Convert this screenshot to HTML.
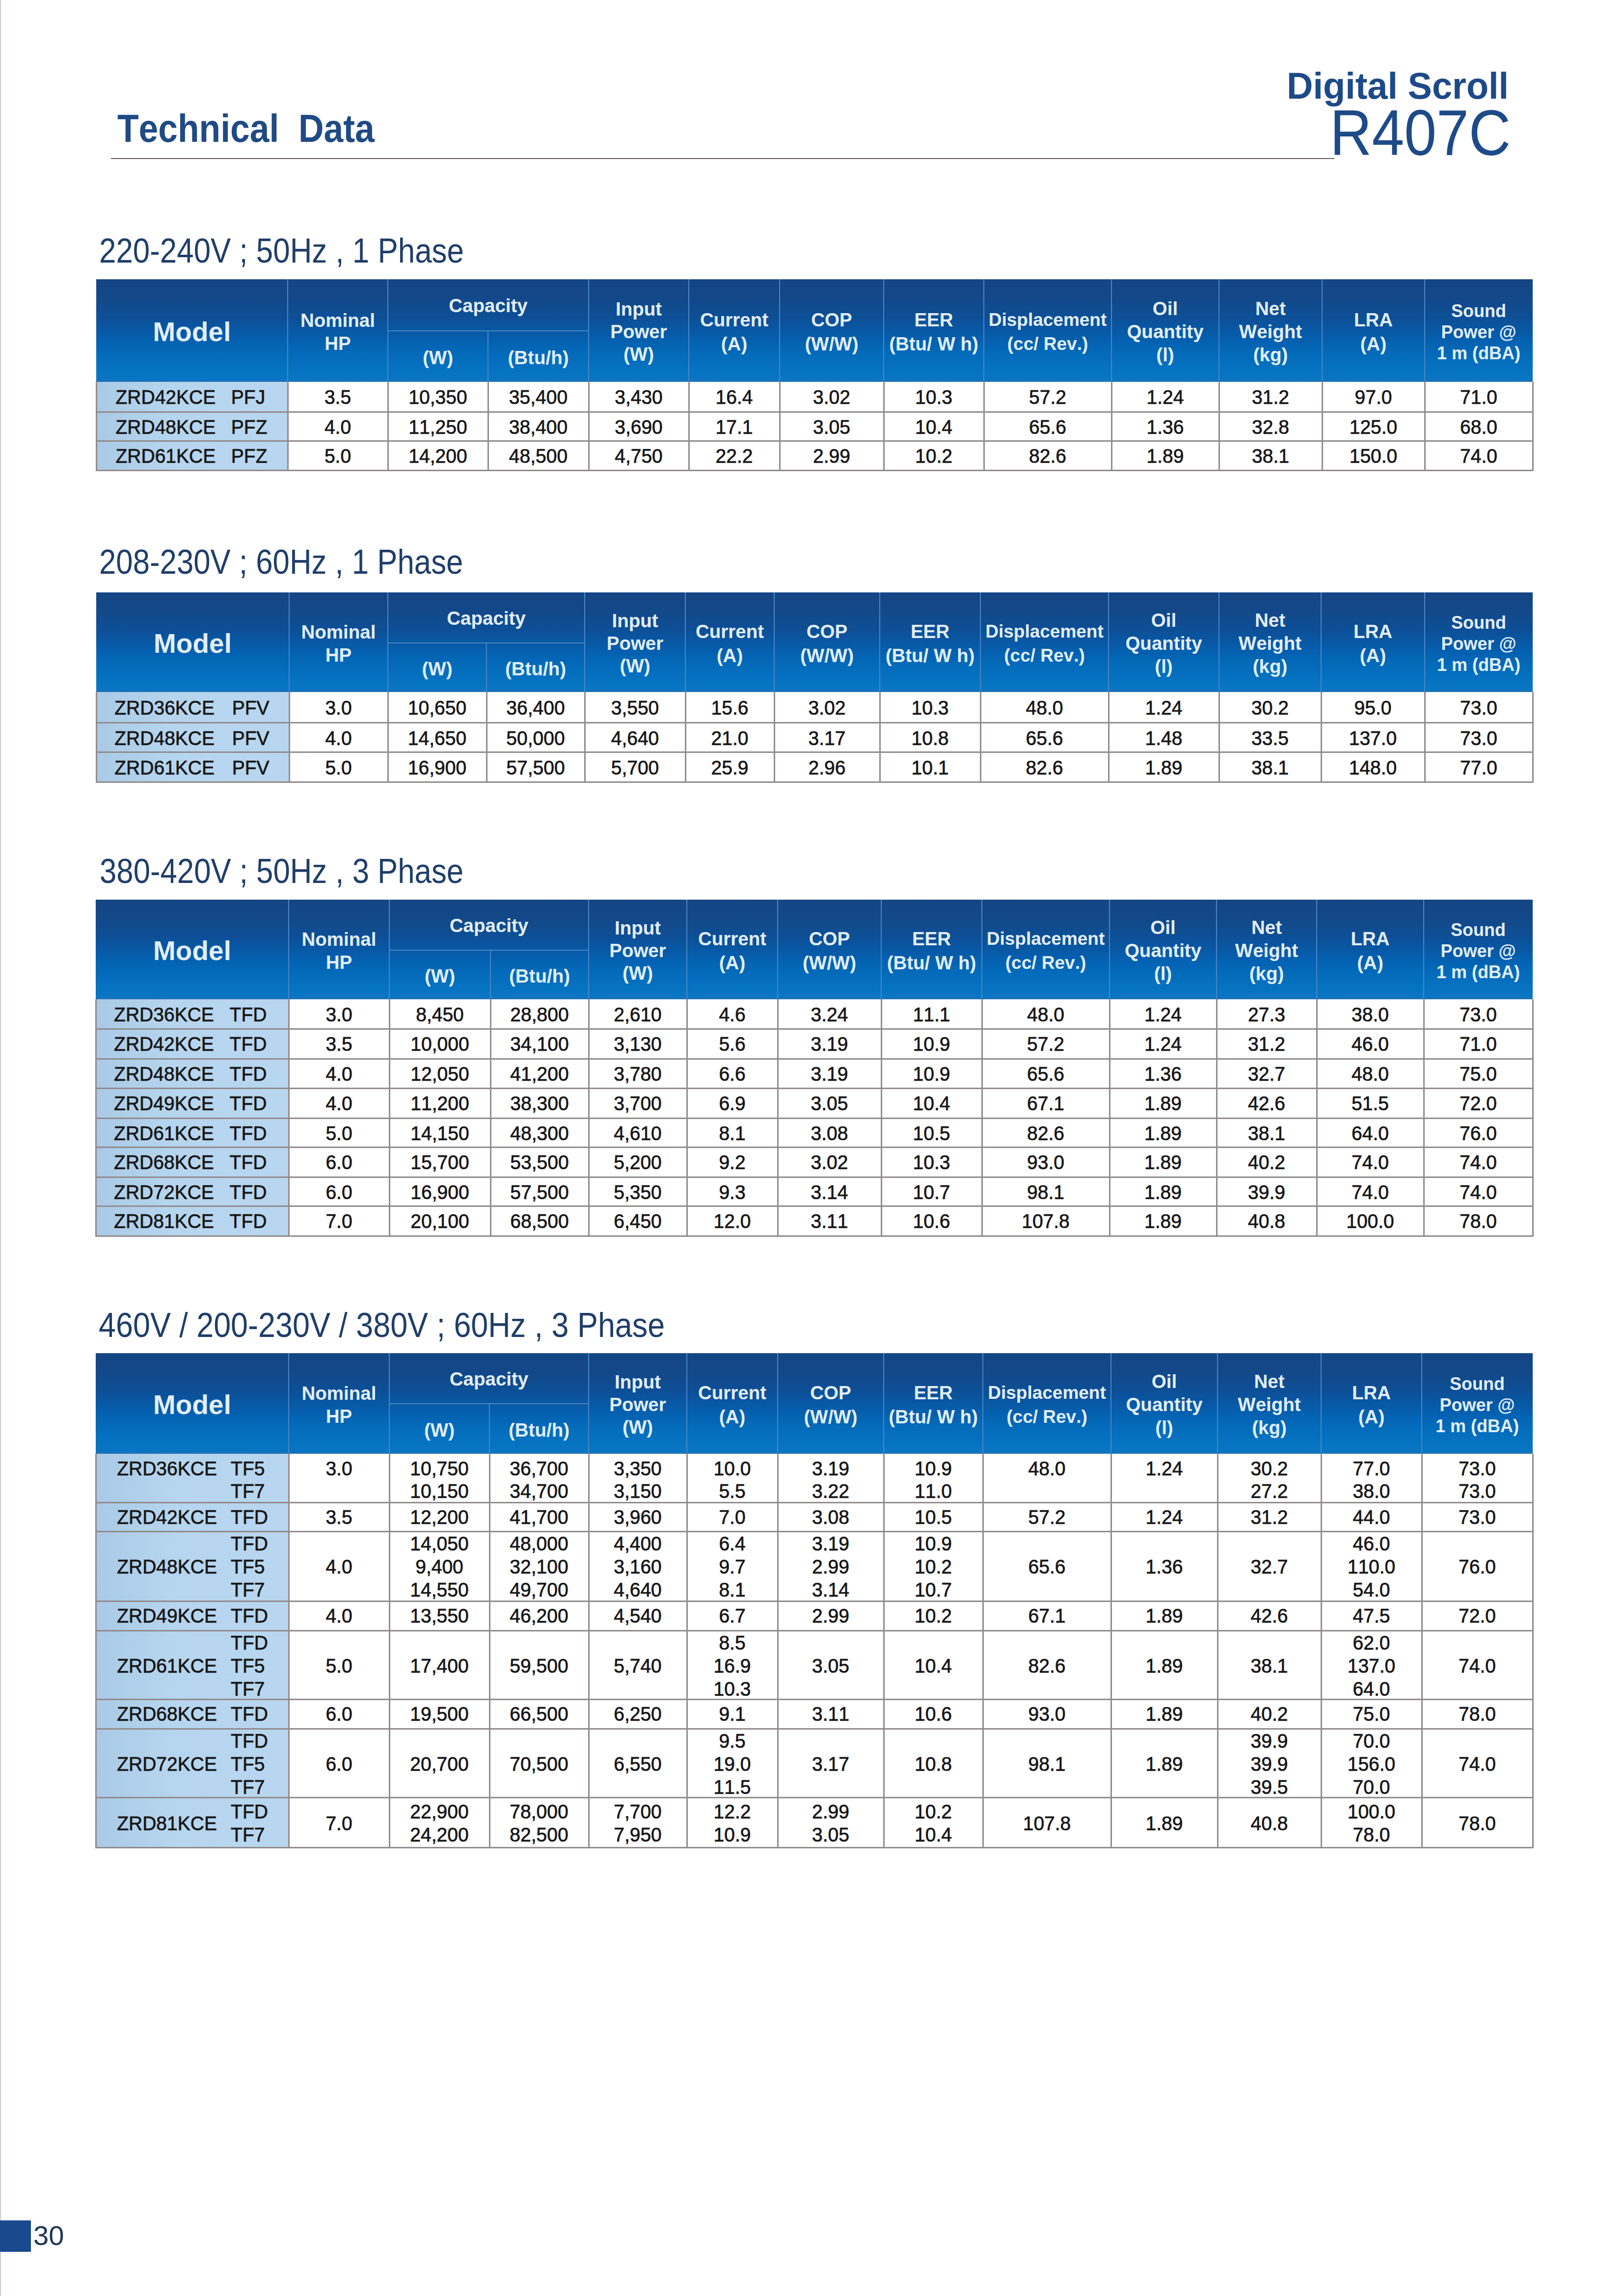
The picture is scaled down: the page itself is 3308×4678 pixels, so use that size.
<!DOCTYPE html>
<html><head><meta charset="utf-8"><style>
html,body{margin:0;padding:0;background:#fff;}
body{width:3308px;height:4678px;position:relative;overflow:hidden;font-family:"Liberation Sans",sans-serif;}
.t{position:absolute;white-space:pre;font-kerning:none;}
.hdr{position:absolute;background:linear-gradient(to bottom,#154583 0%,#12498a 22%,#0d4f96 37%,#0858a5 50%,#0462b2 62%,#036cbb 75%,#0673c1 90%,#0a76c3 98%,#2a6eb0 100%);}
.mcol{position:absolute;background:linear-gradient(to right,#a9cae6,#b6d5ee 40%,#b8d6ef);}
.hl{position:absolute;background:#4a86c6;}
.gl{position:absolute;background:#928b8b;}
</style></head><body>
<div style="position:absolute;left:0;top:0;width:2px;height:4678px;background:#d2c6ca"></div>
<div style="position:absolute;left:226px;top:322px;width:2492px;height:2px;background:#6b5a60"></div>
<div class="t" style="left:201.9px;top:469.2px;height:84px;line-height:84px;font-size:70px;color:#1f3e6a;font-weight:normal;transform:scaleX(0.8838);transform-origin:0 50%;">220-240V ; 50Hz , 1 Phase</div>
<div class="t" style="left:202.4px;top:1102.7px;height:84px;line-height:84px;font-size:70px;color:#1f3e6a;font-weight:normal;transform:scaleX(0.8820);transform-origin:0 50%;">208-230V ; 60Hz , 1 Phase</div>
<div class="t" style="left:202.6px;top:1733.2px;height:84px;line-height:84px;font-size:70px;color:#1f3e6a;font-weight:normal;transform:scaleX(0.8817);transform-origin:0 50%;">380-420V ; 50Hz , 3 Phase</div>
<div class="t" style="left:200.6px;top:2657.7px;height:84px;line-height:84px;font-size:70px;color:#1f3e6a;font-weight:normal;transform:scaleX(0.8980);transform-origin:0 50%;">460V / 200-230V / 380V ; 60Hz , 3 Phase</div>
<div class="t" style="left:238.8px;top:213.7px;height:95px;line-height:95px;font-size:79px;color:#1f4a85;font-weight:bold;transform:scaleX(0.9036);transform-origin:0 50%;">Technical  Data</div>
<div class="t" style="left:2621.1px;top:128.9px;height:91px;line-height:91px;font-size:76px;color:#1d4a88;font-weight:bold;transform:scaleX(0.9734);transform-origin:0 50%;">Digital Scroll</div>
<div class="t" style="left:2708.8px;top:192.2px;height:158px;line-height:158px;font-size:132px;color:#1d4a88;font-weight:normal;transform:scaleX(0.8964);transform-origin:0 50%;">R407C</div>
<div class="hdr" style="left:196px;top:569px;width:2926px;height:209px"></div>
<div class="mcol" style="left:196px;top:778px;width:390px;height:180px"></div>
<div class="hl" style="left:585px;top:569px;width:2px;height:209px"></div>
<div class="hl" style="left:789px;top:569px;width:2px;height:209px"></div>
<div class="hl" style="left:993px;top:674px;width:2px;height:104px"></div>
<div class="hl" style="left:1198px;top:569px;width:2px;height:209px"></div>
<div class="hl" style="left:1402px;top:569px;width:2px;height:209px"></div>
<div class="hl" style="left:1587px;top:569px;width:2px;height:209px"></div>
<div class="hl" style="left:1799px;top:569px;width:2px;height:209px"></div>
<div class="hl" style="left:2003px;top:569px;width:2px;height:209px"></div>
<div class="hl" style="left:2263px;top:569px;width:2px;height:209px"></div>
<div class="hl" style="left:2482px;top:569px;width:2px;height:209px"></div>
<div class="hl" style="left:2692px;top:569px;width:2px;height:209px"></div>
<div class="hl" style="left:2901px;top:569px;width:2px;height:209px"></div>
<div class="hl" style="left:790px;top:673px;width:409px;height:2px"></div>
<div class="gl" style="left:195px;top:778px;width:3px;height:181px"></div>
<div class="gl" style="left:585px;top:778px;width:3px;height:181px"></div>
<div class="gl" style="left:789px;top:778px;width:3px;height:181px"></div>
<div class="gl" style="left:993px;top:778px;width:3px;height:181px"></div>
<div class="gl" style="left:1198px;top:778px;width:3px;height:181px"></div>
<div class="gl" style="left:1402px;top:778px;width:3px;height:181px"></div>
<div class="gl" style="left:1587px;top:778px;width:3px;height:181px"></div>
<div class="gl" style="left:1799px;top:778px;width:3px;height:181px"></div>
<div class="gl" style="left:2003px;top:778px;width:3px;height:181px"></div>
<div class="gl" style="left:2263px;top:778px;width:3px;height:181px"></div>
<div class="gl" style="left:2482px;top:778px;width:3px;height:181px"></div>
<div class="gl" style="left:2692px;top:778px;width:3px;height:181px"></div>
<div class="gl" style="left:2901px;top:778px;width:3px;height:181px"></div>
<div class="gl" style="left:3121px;top:778px;width:3px;height:181px"></div>
<div class="gl" style="left:195px;top:838px;width:2928px;height:3px"></div>
<div class="gl" style="left:195px;top:897px;width:2928px;height:3px"></div>
<div class="gl" style="left:195px;top:957px;width:2928px;height:3px"></div>
<div class="t" style="left:191.0px;top:643.4px;width:400px;height:66px;line-height:66px;font-size:55px;color:#e2eef9;font-weight:bold;text-align:center;">Model</div>
<div class="t" style="left:488.0px;top:629.9px;width:400px;height:46px;line-height:46px;font-size:38.5px;color:#e2eef9;font-weight:bold;text-align:center;">Nominal</div>
<div class="t" style="left:488.0px;top:676.9px;width:400px;height:46px;line-height:46px;font-size:38.5px;color:#e2eef9;font-weight:bold;text-align:center;">HP</div>
<div class="t" style="left:794.5px;top:600.4px;width:400px;height:46px;line-height:46px;font-size:38.5px;color:#e2eef9;font-weight:bold;text-align:center;">Capacity</div>
<div class="t" style="left:692.0px;top:705.9px;width:400px;height:46px;line-height:46px;font-size:38.5px;color:#e2eef9;font-weight:bold;text-align:center;">(W)</div>
<div class="t" style="left:896.5px;top:705.9px;width:400px;height:46px;line-height:46px;font-size:38.5px;color:#e2eef9;font-weight:bold;text-align:center;">(Btu/h)</div>
<div class="t" style="left:1101.0px;top:607.4px;width:400px;height:46px;line-height:46px;font-size:38.5px;color:#e2eef9;font-weight:bold;text-align:center;">Input</div>
<div class="t" style="left:1101.0px;top:653.4px;width:400px;height:46px;line-height:46px;font-size:38.5px;color:#e2eef9;font-weight:bold;text-align:center;">Power</div>
<div class="t" style="left:1101.0px;top:699.4px;width:400px;height:46px;line-height:46px;font-size:38.5px;color:#e2eef9;font-weight:bold;text-align:center;">(W)</div>
<div class="t" style="left:1295.5px;top:628.9px;width:400px;height:46px;line-height:46px;font-size:38.5px;color:#e2eef9;font-weight:bold;text-align:center;">Current</div>
<div class="t" style="left:1295.5px;top:677.9px;width:400px;height:46px;line-height:46px;font-size:38.5px;color:#e2eef9;font-weight:bold;text-align:center;">(A)</div>
<div class="t" style="left:1494.0px;top:628.9px;width:400px;height:46px;line-height:46px;font-size:38.5px;color:#e2eef9;font-weight:bold;text-align:center;">COP</div>
<div class="t" style="left:1494.0px;top:677.9px;width:400px;height:46px;line-height:46px;font-size:38.5px;color:#e2eef9;font-weight:bold;text-align:center;">(W/W)</div>
<div class="t" style="left:1702.0px;top:628.9px;width:400px;height:46px;line-height:46px;font-size:38.5px;color:#e2eef9;font-weight:bold;text-align:center;">EER</div>
<div class="t" style="left:1702.0px;top:677.9px;width:400px;height:46px;line-height:46px;font-size:38.5px;color:#e2eef9;font-weight:bold;text-align:center;">(Btu/ W h)</div>
<div class="t" style="left:1934.0px;top:629.9px;width:400px;height:44px;line-height:44px;font-size:37px;color:#e2eef9;font-weight:bold;text-align:center;">Displacement</div>
<div class="t" style="left:1934.0px;top:678.9px;width:400px;height:44px;line-height:44px;font-size:37px;color:#e2eef9;font-weight:bold;text-align:center;">(cc/ Rev.)</div>
<div class="t" style="left:2173.5px;top:606.4px;width:400px;height:46px;line-height:46px;font-size:38.5px;color:#e2eef9;font-weight:bold;text-align:center;">Oil</div>
<div class="t" style="left:2173.5px;top:653.4px;width:400px;height:46px;line-height:46px;font-size:38.5px;color:#e2eef9;font-weight:bold;text-align:center;">Quantity</div>
<div class="t" style="left:2173.5px;top:700.4px;width:400px;height:46px;line-height:46px;font-size:38.5px;color:#e2eef9;font-weight:bold;text-align:center;">(l)</div>
<div class="t" style="left:2388.0px;top:606.4px;width:400px;height:46px;line-height:46px;font-size:38.5px;color:#e2eef9;font-weight:bold;text-align:center;">Net</div>
<div class="t" style="left:2388.0px;top:653.4px;width:400px;height:46px;line-height:46px;font-size:38.5px;color:#e2eef9;font-weight:bold;text-align:center;">Weight</div>
<div class="t" style="left:2388.0px;top:700.4px;width:400px;height:46px;line-height:46px;font-size:38.5px;color:#e2eef9;font-weight:bold;text-align:center;">(kg)</div>
<div class="t" style="left:2597.5px;top:628.9px;width:400px;height:46px;line-height:46px;font-size:38.5px;color:#e2eef9;font-weight:bold;text-align:center;">LRA</div>
<div class="t" style="left:2597.5px;top:677.9px;width:400px;height:46px;line-height:46px;font-size:38.5px;color:#e2eef9;font-weight:bold;text-align:center;">(A)</div>
<div class="t" style="left:2812.0px;top:611.7px;width:400px;height:43px;line-height:43px;font-size:36px;color:#e2eef9;font-weight:bold;text-align:center;">Sound</div>
<div class="t" style="left:2812.0px;top:654.9px;width:400px;height:43px;line-height:43px;font-size:36px;color:#e2eef9;font-weight:bold;text-align:center;">Power @</div>
<div class="t" style="left:2812.0px;top:698.1px;width:400px;height:43px;line-height:43px;font-size:36px;color:#e2eef9;font-weight:bold;text-align:center;">1 m (dBA)</div>
<div class="t" style="left:235.5px;top:786.0px;height:47px;line-height:47px;font-size:39px;color:#161616;font-weight:normal;transform:scaleY(1.03);-webkit-text-stroke:0.7px #161616;">ZRD42KCE</div>
<div class="t" style="left:470.8px;top:786.0px;height:47px;line-height:47px;font-size:39px;color:#161616;font-weight:normal;transform:scaleY(1.03);-webkit-text-stroke:0.7px #161616;">PFJ</div>
<div class="t" style="left:488.0px;top:786.0px;width:400px;height:47px;line-height:47px;font-size:39px;color:#161616;font-weight:normal;text-align:center;transform:scaleY(1.03);-webkit-text-stroke:0.7px #161616;">3.5</div>
<div class="t" style="left:692.0px;top:786.0px;width:400px;height:47px;line-height:47px;font-size:39px;color:#161616;font-weight:normal;text-align:center;transform:scaleY(1.03);-webkit-text-stroke:0.7px #161616;">10,350</div>
<div class="t" style="left:896.5px;top:786.0px;width:400px;height:47px;line-height:47px;font-size:39px;color:#161616;font-weight:normal;text-align:center;transform:scaleY(1.03);-webkit-text-stroke:0.7px #161616;">35,400</div>
<div class="t" style="left:1101.0px;top:786.0px;width:400px;height:47px;line-height:47px;font-size:39px;color:#161616;font-weight:normal;text-align:center;transform:scaleY(1.03);-webkit-text-stroke:0.7px #161616;">3,430</div>
<div class="t" style="left:1295.5px;top:786.0px;width:400px;height:47px;line-height:47px;font-size:39px;color:#161616;font-weight:normal;text-align:center;transform:scaleY(1.03);-webkit-text-stroke:0.7px #161616;">16.4</div>
<div class="t" style="left:1494.0px;top:786.0px;width:400px;height:47px;line-height:47px;font-size:39px;color:#161616;font-weight:normal;text-align:center;transform:scaleY(1.03);-webkit-text-stroke:0.7px #161616;">3.02</div>
<div class="t" style="left:1702.0px;top:786.0px;width:400px;height:47px;line-height:47px;font-size:39px;color:#161616;font-weight:normal;text-align:center;transform:scaleY(1.03);-webkit-text-stroke:0.7px #161616;">10.3</div>
<div class="t" style="left:1934.0px;top:786.0px;width:400px;height:47px;line-height:47px;font-size:39px;color:#161616;font-weight:normal;text-align:center;transform:scaleY(1.03);-webkit-text-stroke:0.7px #161616;">57.2</div>
<div class="t" style="left:2173.5px;top:786.0px;width:400px;height:47px;line-height:47px;font-size:39px;color:#161616;font-weight:normal;text-align:center;transform:scaleY(1.03);-webkit-text-stroke:0.7px #161616;">1.24</div>
<div class="t" style="left:2388.0px;top:786.0px;width:400px;height:47px;line-height:47px;font-size:39px;color:#161616;font-weight:normal;text-align:center;transform:scaleY(1.03);-webkit-text-stroke:0.7px #161616;">31.2</div>
<div class="t" style="left:2597.5px;top:786.0px;width:400px;height:47px;line-height:47px;font-size:39px;color:#161616;font-weight:normal;text-align:center;transform:scaleY(1.03);-webkit-text-stroke:0.7px #161616;">97.0</div>
<div class="t" style="left:2812.0px;top:786.0px;width:400px;height:47px;line-height:47px;font-size:39px;color:#161616;font-weight:normal;text-align:center;transform:scaleY(1.03);-webkit-text-stroke:0.7px #161616;">71.0</div>
<div class="t" style="left:235.5px;top:847.0px;height:47px;line-height:47px;font-size:39px;color:#161616;font-weight:normal;transform:scaleY(1.03);-webkit-text-stroke:0.7px #161616;">ZRD48KCE</div>
<div class="t" style="left:470.8px;top:847.0px;height:47px;line-height:47px;font-size:39px;color:#161616;font-weight:normal;transform:scaleY(1.03);-webkit-text-stroke:0.7px #161616;">PFZ</div>
<div class="t" style="left:488.0px;top:847.0px;width:400px;height:47px;line-height:47px;font-size:39px;color:#161616;font-weight:normal;text-align:center;transform:scaleY(1.03);-webkit-text-stroke:0.7px #161616;">4.0</div>
<div class="t" style="left:692.0px;top:847.0px;width:400px;height:47px;line-height:47px;font-size:39px;color:#161616;font-weight:normal;text-align:center;transform:scaleY(1.03);-webkit-text-stroke:0.7px #161616;">11,250</div>
<div class="t" style="left:896.5px;top:847.0px;width:400px;height:47px;line-height:47px;font-size:39px;color:#161616;font-weight:normal;text-align:center;transform:scaleY(1.03);-webkit-text-stroke:0.7px #161616;">38,400</div>
<div class="t" style="left:1101.0px;top:847.0px;width:400px;height:47px;line-height:47px;font-size:39px;color:#161616;font-weight:normal;text-align:center;transform:scaleY(1.03);-webkit-text-stroke:0.7px #161616;">3,690</div>
<div class="t" style="left:1295.5px;top:847.0px;width:400px;height:47px;line-height:47px;font-size:39px;color:#161616;font-weight:normal;text-align:center;transform:scaleY(1.03);-webkit-text-stroke:0.7px #161616;">17.1</div>
<div class="t" style="left:1494.0px;top:847.0px;width:400px;height:47px;line-height:47px;font-size:39px;color:#161616;font-weight:normal;text-align:center;transform:scaleY(1.03);-webkit-text-stroke:0.7px #161616;">3.05</div>
<div class="t" style="left:1702.0px;top:847.0px;width:400px;height:47px;line-height:47px;font-size:39px;color:#161616;font-weight:normal;text-align:center;transform:scaleY(1.03);-webkit-text-stroke:0.7px #161616;">10.4</div>
<div class="t" style="left:1934.0px;top:847.0px;width:400px;height:47px;line-height:47px;font-size:39px;color:#161616;font-weight:normal;text-align:center;transform:scaleY(1.03);-webkit-text-stroke:0.7px #161616;">65.6</div>
<div class="t" style="left:2173.5px;top:847.0px;width:400px;height:47px;line-height:47px;font-size:39px;color:#161616;font-weight:normal;text-align:center;transform:scaleY(1.03);-webkit-text-stroke:0.7px #161616;">1.36</div>
<div class="t" style="left:2388.0px;top:847.0px;width:400px;height:47px;line-height:47px;font-size:39px;color:#161616;font-weight:normal;text-align:center;transform:scaleY(1.03);-webkit-text-stroke:0.7px #161616;">32.8</div>
<div class="t" style="left:2597.5px;top:847.0px;width:400px;height:47px;line-height:47px;font-size:39px;color:#161616;font-weight:normal;text-align:center;transform:scaleY(1.03);-webkit-text-stroke:0.7px #161616;">125.0</div>
<div class="t" style="left:2812.0px;top:847.0px;width:400px;height:47px;line-height:47px;font-size:39px;color:#161616;font-weight:normal;text-align:center;transform:scaleY(1.03);-webkit-text-stroke:0.7px #161616;">68.0</div>
<div class="t" style="left:235.5px;top:906.0px;height:47px;line-height:47px;font-size:39px;color:#161616;font-weight:normal;transform:scaleY(1.03);-webkit-text-stroke:0.7px #161616;">ZRD61KCE</div>
<div class="t" style="left:470.8px;top:906.0px;height:47px;line-height:47px;font-size:39px;color:#161616;font-weight:normal;transform:scaleY(1.03);-webkit-text-stroke:0.7px #161616;">PFZ</div>
<div class="t" style="left:488.0px;top:906.0px;width:400px;height:47px;line-height:47px;font-size:39px;color:#161616;font-weight:normal;text-align:center;transform:scaleY(1.03);-webkit-text-stroke:0.7px #161616;">5.0</div>
<div class="t" style="left:692.0px;top:906.0px;width:400px;height:47px;line-height:47px;font-size:39px;color:#161616;font-weight:normal;text-align:center;transform:scaleY(1.03);-webkit-text-stroke:0.7px #161616;">14,200</div>
<div class="t" style="left:896.5px;top:906.0px;width:400px;height:47px;line-height:47px;font-size:39px;color:#161616;font-weight:normal;text-align:center;transform:scaleY(1.03);-webkit-text-stroke:0.7px #161616;">48,500</div>
<div class="t" style="left:1101.0px;top:906.0px;width:400px;height:47px;line-height:47px;font-size:39px;color:#161616;font-weight:normal;text-align:center;transform:scaleY(1.03);-webkit-text-stroke:0.7px #161616;">4,750</div>
<div class="t" style="left:1295.5px;top:906.0px;width:400px;height:47px;line-height:47px;font-size:39px;color:#161616;font-weight:normal;text-align:center;transform:scaleY(1.03);-webkit-text-stroke:0.7px #161616;">22.2</div>
<div class="t" style="left:1494.0px;top:906.0px;width:400px;height:47px;line-height:47px;font-size:39px;color:#161616;font-weight:normal;text-align:center;transform:scaleY(1.03);-webkit-text-stroke:0.7px #161616;">2.99</div>
<div class="t" style="left:1702.0px;top:906.0px;width:400px;height:47px;line-height:47px;font-size:39px;color:#161616;font-weight:normal;text-align:center;transform:scaleY(1.03);-webkit-text-stroke:0.7px #161616;">10.2</div>
<div class="t" style="left:1934.0px;top:906.0px;width:400px;height:47px;line-height:47px;font-size:39px;color:#161616;font-weight:normal;text-align:center;transform:scaleY(1.03);-webkit-text-stroke:0.7px #161616;">82.6</div>
<div class="t" style="left:2173.5px;top:906.0px;width:400px;height:47px;line-height:47px;font-size:39px;color:#161616;font-weight:normal;text-align:center;transform:scaleY(1.03);-webkit-text-stroke:0.7px #161616;">1.89</div>
<div class="t" style="left:2388.0px;top:906.0px;width:400px;height:47px;line-height:47px;font-size:39px;color:#161616;font-weight:normal;text-align:center;transform:scaleY(1.03);-webkit-text-stroke:0.7px #161616;">38.1</div>
<div class="t" style="left:2597.5px;top:906.0px;width:400px;height:47px;line-height:47px;font-size:39px;color:#161616;font-weight:normal;text-align:center;transform:scaleY(1.03);-webkit-text-stroke:0.7px #161616;">150.0</div>
<div class="t" style="left:2812.0px;top:906.0px;width:400px;height:47px;line-height:47px;font-size:39px;color:#161616;font-weight:normal;text-align:center;transform:scaleY(1.03);-webkit-text-stroke:0.7px #161616;">74.0</div>
<div class="hdr" style="left:196px;top:1207px;width:2926px;height:203px"></div>
<div class="mcol" style="left:196px;top:1410px;width:393px;height:183px"></div>
<div class="hl" style="left:588px;top:1207px;width:2px;height:203px"></div>
<div class="hl" style="left:789px;top:1207px;width:2px;height:203px"></div>
<div class="hl" style="left:990px;top:1310px;width:2px;height:100px"></div>
<div class="hl" style="left:1190px;top:1207px;width:2px;height:203px"></div>
<div class="hl" style="left:1395px;top:1207px;width:2px;height:203px"></div>
<div class="hl" style="left:1576px;top:1207px;width:2px;height:203px"></div>
<div class="hl" style="left:1791px;top:1207px;width:2px;height:203px"></div>
<div class="hl" style="left:1996px;top:1207px;width:2px;height:203px"></div>
<div class="hl" style="left:2257px;top:1207px;width:2px;height:203px"></div>
<div class="hl" style="left:2482px;top:1207px;width:2px;height:203px"></div>
<div class="hl" style="left:2690px;top:1207px;width:2px;height:203px"></div>
<div class="hl" style="left:2901px;top:1207px;width:2px;height:203px"></div>
<div class="hl" style="left:790px;top:1309px;width:401px;height:2px"></div>
<div class="gl" style="left:195px;top:1410px;width:3px;height:184px"></div>
<div class="gl" style="left:588px;top:1410px;width:3px;height:184px"></div>
<div class="gl" style="left:789px;top:1410px;width:3px;height:184px"></div>
<div class="gl" style="left:990px;top:1410px;width:3px;height:184px"></div>
<div class="gl" style="left:1190px;top:1410px;width:3px;height:184px"></div>
<div class="gl" style="left:1395px;top:1410px;width:3px;height:184px"></div>
<div class="gl" style="left:1576px;top:1410px;width:3px;height:184px"></div>
<div class="gl" style="left:1791px;top:1410px;width:3px;height:184px"></div>
<div class="gl" style="left:1996px;top:1410px;width:3px;height:184px"></div>
<div class="gl" style="left:2257px;top:1410px;width:3px;height:184px"></div>
<div class="gl" style="left:2482px;top:1410px;width:3px;height:184px"></div>
<div class="gl" style="left:2690px;top:1410px;width:3px;height:184px"></div>
<div class="gl" style="left:2901px;top:1410px;width:3px;height:184px"></div>
<div class="gl" style="left:3121px;top:1410px;width:3px;height:184px"></div>
<div class="gl" style="left:195px;top:1471px;width:2928px;height:3px"></div>
<div class="gl" style="left:195px;top:1531px;width:2928px;height:3px"></div>
<div class="gl" style="left:195px;top:1592px;width:2928px;height:3px"></div>
<div class="t" style="left:192.5px;top:1278.4px;width:400px;height:66px;line-height:66px;font-size:55px;color:#e2eef9;font-weight:bold;text-align:center;">Model</div>
<div class="t" style="left:489.5px;top:1264.9px;width:400px;height:46px;line-height:46px;font-size:38.5px;color:#e2eef9;font-weight:bold;text-align:center;">Nominal</div>
<div class="t" style="left:489.5px;top:1311.9px;width:400px;height:46px;line-height:46px;font-size:38.5px;color:#e2eef9;font-weight:bold;text-align:center;">HP</div>
<div class="t" style="left:790.5px;top:1237.4px;width:400px;height:46px;line-height:46px;font-size:38.5px;color:#e2eef9;font-weight:bold;text-align:center;">Capacity</div>
<div class="t" style="left:690.5px;top:1339.9px;width:400px;height:46px;line-height:46px;font-size:38.5px;color:#e2eef9;font-weight:bold;text-align:center;">(W)</div>
<div class="t" style="left:891.0px;top:1339.9px;width:400px;height:46px;line-height:46px;font-size:38.5px;color:#e2eef9;font-weight:bold;text-align:center;">(Btu/h)</div>
<div class="t" style="left:1093.5px;top:1242.4px;width:400px;height:46px;line-height:46px;font-size:38.5px;color:#e2eef9;font-weight:bold;text-align:center;">Input</div>
<div class="t" style="left:1093.5px;top:1288.4px;width:400px;height:46px;line-height:46px;font-size:38.5px;color:#e2eef9;font-weight:bold;text-align:center;">Power</div>
<div class="t" style="left:1093.5px;top:1334.4px;width:400px;height:46px;line-height:46px;font-size:38.5px;color:#e2eef9;font-weight:bold;text-align:center;">(W)</div>
<div class="t" style="left:1286.5px;top:1263.9px;width:400px;height:46px;line-height:46px;font-size:38.5px;color:#e2eef9;font-weight:bold;text-align:center;">Current</div>
<div class="t" style="left:1286.5px;top:1312.9px;width:400px;height:46px;line-height:46px;font-size:38.5px;color:#e2eef9;font-weight:bold;text-align:center;">(A)</div>
<div class="t" style="left:1484.5px;top:1263.9px;width:400px;height:46px;line-height:46px;font-size:38.5px;color:#e2eef9;font-weight:bold;text-align:center;">COP</div>
<div class="t" style="left:1484.5px;top:1312.9px;width:400px;height:46px;line-height:46px;font-size:38.5px;color:#e2eef9;font-weight:bold;text-align:center;">(W/W)</div>
<div class="t" style="left:1694.5px;top:1263.9px;width:400px;height:46px;line-height:46px;font-size:38.5px;color:#e2eef9;font-weight:bold;text-align:center;">EER</div>
<div class="t" style="left:1694.5px;top:1312.9px;width:400px;height:46px;line-height:46px;font-size:38.5px;color:#e2eef9;font-weight:bold;text-align:center;">(Btu/ W h)</div>
<div class="t" style="left:1927.5px;top:1264.9px;width:400px;height:44px;line-height:44px;font-size:37px;color:#e2eef9;font-weight:bold;text-align:center;">Displacement</div>
<div class="t" style="left:1927.5px;top:1313.9px;width:400px;height:44px;line-height:44px;font-size:37px;color:#e2eef9;font-weight:bold;text-align:center;">(cc/ Rev.)</div>
<div class="t" style="left:2170.5px;top:1241.4px;width:400px;height:46px;line-height:46px;font-size:38.5px;color:#e2eef9;font-weight:bold;text-align:center;">Oil</div>
<div class="t" style="left:2170.5px;top:1288.4px;width:400px;height:46px;line-height:46px;font-size:38.5px;color:#e2eef9;font-weight:bold;text-align:center;">Quantity</div>
<div class="t" style="left:2170.5px;top:1335.4px;width:400px;height:46px;line-height:46px;font-size:38.5px;color:#e2eef9;font-weight:bold;text-align:center;">(l)</div>
<div class="t" style="left:2387.0px;top:1241.4px;width:400px;height:46px;line-height:46px;font-size:38.5px;color:#e2eef9;font-weight:bold;text-align:center;">Net</div>
<div class="t" style="left:2387.0px;top:1288.4px;width:400px;height:46px;line-height:46px;font-size:38.5px;color:#e2eef9;font-weight:bold;text-align:center;">Weight</div>
<div class="t" style="left:2387.0px;top:1335.4px;width:400px;height:46px;line-height:46px;font-size:38.5px;color:#e2eef9;font-weight:bold;text-align:center;">(kg)</div>
<div class="t" style="left:2596.5px;top:1263.9px;width:400px;height:46px;line-height:46px;font-size:38.5px;color:#e2eef9;font-weight:bold;text-align:center;">LRA</div>
<div class="t" style="left:2596.5px;top:1312.9px;width:400px;height:46px;line-height:46px;font-size:38.5px;color:#e2eef9;font-weight:bold;text-align:center;">(A)</div>
<div class="t" style="left:2812.0px;top:1246.7px;width:400px;height:43px;line-height:43px;font-size:36px;color:#e2eef9;font-weight:bold;text-align:center;">Sound</div>
<div class="t" style="left:2812.0px;top:1289.9px;width:400px;height:43px;line-height:43px;font-size:36px;color:#e2eef9;font-weight:bold;text-align:center;">Power @</div>
<div class="t" style="left:2812.0px;top:1333.1px;width:400px;height:43px;line-height:43px;font-size:36px;color:#e2eef9;font-weight:bold;text-align:center;">1 m (dBA)</div>
<div class="t" style="left:233.3px;top:1418.6px;height:47px;line-height:47px;font-size:39px;color:#161616;font-weight:normal;transform:scaleY(1.03);-webkit-text-stroke:0.7px #161616;">ZRD36KCE</div>
<div class="t" style="left:472.7px;top:1418.6px;height:47px;line-height:47px;font-size:39px;color:#161616;font-weight:normal;transform:scaleY(1.03);-webkit-text-stroke:0.7px #161616;">PFV</div>
<div class="t" style="left:489.5px;top:1418.6px;width:400px;height:47px;line-height:47px;font-size:39px;color:#161616;font-weight:normal;text-align:center;transform:scaleY(1.03);-webkit-text-stroke:0.7px #161616;">3.0</div>
<div class="t" style="left:690.5px;top:1418.6px;width:400px;height:47px;line-height:47px;font-size:39px;color:#161616;font-weight:normal;text-align:center;transform:scaleY(1.03);-webkit-text-stroke:0.7px #161616;">10,650</div>
<div class="t" style="left:891.0px;top:1418.6px;width:400px;height:47px;line-height:47px;font-size:39px;color:#161616;font-weight:normal;text-align:center;transform:scaleY(1.03);-webkit-text-stroke:0.7px #161616;">36,400</div>
<div class="t" style="left:1093.5px;top:1418.6px;width:400px;height:47px;line-height:47px;font-size:39px;color:#161616;font-weight:normal;text-align:center;transform:scaleY(1.03);-webkit-text-stroke:0.7px #161616;">3,550</div>
<div class="t" style="left:1286.5px;top:1418.6px;width:400px;height:47px;line-height:47px;font-size:39px;color:#161616;font-weight:normal;text-align:center;transform:scaleY(1.03);-webkit-text-stroke:0.7px #161616;">15.6</div>
<div class="t" style="left:1484.5px;top:1418.6px;width:400px;height:47px;line-height:47px;font-size:39px;color:#161616;font-weight:normal;text-align:center;transform:scaleY(1.03);-webkit-text-stroke:0.7px #161616;">3.02</div>
<div class="t" style="left:1694.5px;top:1418.6px;width:400px;height:47px;line-height:47px;font-size:39px;color:#161616;font-weight:normal;text-align:center;transform:scaleY(1.03);-webkit-text-stroke:0.7px #161616;">10.3</div>
<div class="t" style="left:1927.5px;top:1418.6px;width:400px;height:47px;line-height:47px;font-size:39px;color:#161616;font-weight:normal;text-align:center;transform:scaleY(1.03);-webkit-text-stroke:0.7px #161616;">48.0</div>
<div class="t" style="left:2170.5px;top:1418.6px;width:400px;height:47px;line-height:47px;font-size:39px;color:#161616;font-weight:normal;text-align:center;transform:scaleY(1.03);-webkit-text-stroke:0.7px #161616;">1.24</div>
<div class="t" style="left:2387.0px;top:1418.6px;width:400px;height:47px;line-height:47px;font-size:39px;color:#161616;font-weight:normal;text-align:center;transform:scaleY(1.03);-webkit-text-stroke:0.7px #161616;">30.2</div>
<div class="t" style="left:2596.5px;top:1418.6px;width:400px;height:47px;line-height:47px;font-size:39px;color:#161616;font-weight:normal;text-align:center;transform:scaleY(1.03);-webkit-text-stroke:0.7px #161616;">95.0</div>
<div class="t" style="left:2812.0px;top:1418.6px;width:400px;height:47px;line-height:47px;font-size:39px;color:#161616;font-weight:normal;text-align:center;transform:scaleY(1.03);-webkit-text-stroke:0.7px #161616;">73.0</div>
<div class="t" style="left:233.3px;top:1480.6px;height:47px;line-height:47px;font-size:39px;color:#161616;font-weight:normal;transform:scaleY(1.03);-webkit-text-stroke:0.7px #161616;">ZRD48KCE</div>
<div class="t" style="left:472.7px;top:1480.6px;height:47px;line-height:47px;font-size:39px;color:#161616;font-weight:normal;transform:scaleY(1.03);-webkit-text-stroke:0.7px #161616;">PFV</div>
<div class="t" style="left:489.5px;top:1480.6px;width:400px;height:47px;line-height:47px;font-size:39px;color:#161616;font-weight:normal;text-align:center;transform:scaleY(1.03);-webkit-text-stroke:0.7px #161616;">4.0</div>
<div class="t" style="left:690.5px;top:1480.6px;width:400px;height:47px;line-height:47px;font-size:39px;color:#161616;font-weight:normal;text-align:center;transform:scaleY(1.03);-webkit-text-stroke:0.7px #161616;">14,650</div>
<div class="t" style="left:891.0px;top:1480.6px;width:400px;height:47px;line-height:47px;font-size:39px;color:#161616;font-weight:normal;text-align:center;transform:scaleY(1.03);-webkit-text-stroke:0.7px #161616;">50,000</div>
<div class="t" style="left:1093.5px;top:1480.6px;width:400px;height:47px;line-height:47px;font-size:39px;color:#161616;font-weight:normal;text-align:center;transform:scaleY(1.03);-webkit-text-stroke:0.7px #161616;">4,640</div>
<div class="t" style="left:1286.5px;top:1480.6px;width:400px;height:47px;line-height:47px;font-size:39px;color:#161616;font-weight:normal;text-align:center;transform:scaleY(1.03);-webkit-text-stroke:0.7px #161616;">21.0</div>
<div class="t" style="left:1484.5px;top:1480.6px;width:400px;height:47px;line-height:47px;font-size:39px;color:#161616;font-weight:normal;text-align:center;transform:scaleY(1.03);-webkit-text-stroke:0.7px #161616;">3.17</div>
<div class="t" style="left:1694.5px;top:1480.6px;width:400px;height:47px;line-height:47px;font-size:39px;color:#161616;font-weight:normal;text-align:center;transform:scaleY(1.03);-webkit-text-stroke:0.7px #161616;">10.8</div>
<div class="t" style="left:1927.5px;top:1480.6px;width:400px;height:47px;line-height:47px;font-size:39px;color:#161616;font-weight:normal;text-align:center;transform:scaleY(1.03);-webkit-text-stroke:0.7px #161616;">65.6</div>
<div class="t" style="left:2170.5px;top:1480.6px;width:400px;height:47px;line-height:47px;font-size:39px;color:#161616;font-weight:normal;text-align:center;transform:scaleY(1.03);-webkit-text-stroke:0.7px #161616;">1.48</div>
<div class="t" style="left:2387.0px;top:1480.6px;width:400px;height:47px;line-height:47px;font-size:39px;color:#161616;font-weight:normal;text-align:center;transform:scaleY(1.03);-webkit-text-stroke:0.7px #161616;">33.5</div>
<div class="t" style="left:2596.5px;top:1480.6px;width:400px;height:47px;line-height:47px;font-size:39px;color:#161616;font-weight:normal;text-align:center;transform:scaleY(1.03);-webkit-text-stroke:0.7px #161616;">137.0</div>
<div class="t" style="left:2812.0px;top:1480.6px;width:400px;height:47px;line-height:47px;font-size:39px;color:#161616;font-weight:normal;text-align:center;transform:scaleY(1.03);-webkit-text-stroke:0.7px #161616;">73.0</div>
<div class="t" style="left:233.3px;top:1540.6px;height:47px;line-height:47px;font-size:39px;color:#161616;font-weight:normal;transform:scaleY(1.03);-webkit-text-stroke:0.7px #161616;">ZRD61KCE</div>
<div class="t" style="left:472.7px;top:1540.6px;height:47px;line-height:47px;font-size:39px;color:#161616;font-weight:normal;transform:scaleY(1.03);-webkit-text-stroke:0.7px #161616;">PFV</div>
<div class="t" style="left:489.5px;top:1540.6px;width:400px;height:47px;line-height:47px;font-size:39px;color:#161616;font-weight:normal;text-align:center;transform:scaleY(1.03);-webkit-text-stroke:0.7px #161616;">5.0</div>
<div class="t" style="left:690.5px;top:1540.6px;width:400px;height:47px;line-height:47px;font-size:39px;color:#161616;font-weight:normal;text-align:center;transform:scaleY(1.03);-webkit-text-stroke:0.7px #161616;">16,900</div>
<div class="t" style="left:891.0px;top:1540.6px;width:400px;height:47px;line-height:47px;font-size:39px;color:#161616;font-weight:normal;text-align:center;transform:scaleY(1.03);-webkit-text-stroke:0.7px #161616;">57,500</div>
<div class="t" style="left:1093.5px;top:1540.6px;width:400px;height:47px;line-height:47px;font-size:39px;color:#161616;font-weight:normal;text-align:center;transform:scaleY(1.03);-webkit-text-stroke:0.7px #161616;">5,700</div>
<div class="t" style="left:1286.5px;top:1540.6px;width:400px;height:47px;line-height:47px;font-size:39px;color:#161616;font-weight:normal;text-align:center;transform:scaleY(1.03);-webkit-text-stroke:0.7px #161616;">25.9</div>
<div class="t" style="left:1484.5px;top:1540.6px;width:400px;height:47px;line-height:47px;font-size:39px;color:#161616;font-weight:normal;text-align:center;transform:scaleY(1.03);-webkit-text-stroke:0.7px #161616;">2.96</div>
<div class="t" style="left:1694.5px;top:1540.6px;width:400px;height:47px;line-height:47px;font-size:39px;color:#161616;font-weight:normal;text-align:center;transform:scaleY(1.03);-webkit-text-stroke:0.7px #161616;">10.1</div>
<div class="t" style="left:1927.5px;top:1540.6px;width:400px;height:47px;line-height:47px;font-size:39px;color:#161616;font-weight:normal;text-align:center;transform:scaleY(1.03);-webkit-text-stroke:0.7px #161616;">82.6</div>
<div class="t" style="left:2170.5px;top:1540.6px;width:400px;height:47px;line-height:47px;font-size:39px;color:#161616;font-weight:normal;text-align:center;transform:scaleY(1.03);-webkit-text-stroke:0.7px #161616;">1.89</div>
<div class="t" style="left:2387.0px;top:1540.6px;width:400px;height:47px;line-height:47px;font-size:39px;color:#161616;font-weight:normal;text-align:center;transform:scaleY(1.03);-webkit-text-stroke:0.7px #161616;">38.1</div>
<div class="t" style="left:2596.5px;top:1540.6px;width:400px;height:47px;line-height:47px;font-size:39px;color:#161616;font-weight:normal;text-align:center;transform:scaleY(1.03);-webkit-text-stroke:0.7px #161616;">148.0</div>
<div class="t" style="left:2812.0px;top:1540.6px;width:400px;height:47px;line-height:47px;font-size:39px;color:#161616;font-weight:normal;text-align:center;transform:scaleY(1.03);-webkit-text-stroke:0.7px #161616;">77.0</div>
<div class="hdr" style="left:195px;top:1833px;width:2927px;height:203px"></div>
<div class="mcol" style="left:195px;top:2036px;width:393px;height:482px"></div>
<div class="hl" style="left:587px;top:1833px;width:2px;height:203px"></div>
<div class="hl" style="left:792px;top:1833px;width:2px;height:203px"></div>
<div class="hl" style="left:998px;top:1936px;width:2px;height:100px"></div>
<div class="hl" style="left:1198px;top:1833px;width:2px;height:203px"></div>
<div class="hl" style="left:1398px;top:1833px;width:2px;height:203px"></div>
<div class="hl" style="left:1583px;top:1833px;width:2px;height:203px"></div>
<div class="hl" style="left:1794px;top:1833px;width:2px;height:203px"></div>
<div class="hl" style="left:1999px;top:1833px;width:2px;height:203px"></div>
<div class="hl" style="left:2259px;top:1833px;width:2px;height:203px"></div>
<div class="hl" style="left:2477px;top:1833px;width:2px;height:203px"></div>
<div class="hl" style="left:2681px;top:1833px;width:2px;height:203px"></div>
<div class="hl" style="left:2899px;top:1833px;width:2px;height:203px"></div>
<div class="hl" style="left:793px;top:1935px;width:406px;height:2px"></div>
<div class="gl" style="left:194px;top:2036px;width:3px;height:483px"></div>
<div class="gl" style="left:587px;top:2036px;width:3px;height:483px"></div>
<div class="gl" style="left:792px;top:2036px;width:3px;height:483px"></div>
<div class="gl" style="left:998px;top:2036px;width:3px;height:483px"></div>
<div class="gl" style="left:1198px;top:2036px;width:3px;height:483px"></div>
<div class="gl" style="left:1398px;top:2036px;width:3px;height:483px"></div>
<div class="gl" style="left:1583px;top:2036px;width:3px;height:483px"></div>
<div class="gl" style="left:1794px;top:2036px;width:3px;height:483px"></div>
<div class="gl" style="left:1999px;top:2036px;width:3px;height:483px"></div>
<div class="gl" style="left:2259px;top:2036px;width:3px;height:483px"></div>
<div class="gl" style="left:2477px;top:2036px;width:3px;height:483px"></div>
<div class="gl" style="left:2681px;top:2036px;width:3px;height:483px"></div>
<div class="gl" style="left:2899px;top:2036px;width:3px;height:483px"></div>
<div class="gl" style="left:3121px;top:2036px;width:3px;height:483px"></div>
<div class="gl" style="left:194px;top:2095px;width:2929px;height:3px"></div>
<div class="gl" style="left:194px;top:2156px;width:2929px;height:3px"></div>
<div class="gl" style="left:194px;top:2216px;width:2929px;height:3px"></div>
<div class="gl" style="left:194px;top:2277px;width:2929px;height:3px"></div>
<div class="gl" style="left:194px;top:2336px;width:2929px;height:3px"></div>
<div class="gl" style="left:194px;top:2397px;width:2929px;height:3px"></div>
<div class="gl" style="left:194px;top:2456px;width:2929px;height:3px"></div>
<div class="gl" style="left:194px;top:2517px;width:2929px;height:3px"></div>
<div class="t" style="left:191.5px;top:1904.4px;width:400px;height:66px;line-height:66px;font-size:55px;color:#e2eef9;font-weight:bold;text-align:center;">Model</div>
<div class="t" style="left:490.5px;top:1890.9px;width:400px;height:46px;line-height:46px;font-size:38.5px;color:#e2eef9;font-weight:bold;text-align:center;">Nominal</div>
<div class="t" style="left:490.5px;top:1937.9px;width:400px;height:46px;line-height:46px;font-size:38.5px;color:#e2eef9;font-weight:bold;text-align:center;">HP</div>
<div class="t" style="left:796.0px;top:1863.4px;width:400px;height:46px;line-height:46px;font-size:38.5px;color:#e2eef9;font-weight:bold;text-align:center;">Capacity</div>
<div class="t" style="left:696.0px;top:1965.9px;width:400px;height:46px;line-height:46px;font-size:38.5px;color:#e2eef9;font-weight:bold;text-align:center;">(W)</div>
<div class="t" style="left:899.0px;top:1965.9px;width:400px;height:46px;line-height:46px;font-size:38.5px;color:#e2eef9;font-weight:bold;text-align:center;">(Btu/h)</div>
<div class="t" style="left:1099.0px;top:1868.4px;width:400px;height:46px;line-height:46px;font-size:38.5px;color:#e2eef9;font-weight:bold;text-align:center;">Input</div>
<div class="t" style="left:1099.0px;top:1914.4px;width:400px;height:46px;line-height:46px;font-size:38.5px;color:#e2eef9;font-weight:bold;text-align:center;">Power</div>
<div class="t" style="left:1099.0px;top:1960.4px;width:400px;height:46px;line-height:46px;font-size:38.5px;color:#e2eef9;font-weight:bold;text-align:center;">(W)</div>
<div class="t" style="left:1291.5px;top:1889.9px;width:400px;height:46px;line-height:46px;font-size:38.5px;color:#e2eef9;font-weight:bold;text-align:center;">Current</div>
<div class="t" style="left:1291.5px;top:1938.9px;width:400px;height:46px;line-height:46px;font-size:38.5px;color:#e2eef9;font-weight:bold;text-align:center;">(A)</div>
<div class="t" style="left:1489.5px;top:1889.9px;width:400px;height:46px;line-height:46px;font-size:38.5px;color:#e2eef9;font-weight:bold;text-align:center;">COP</div>
<div class="t" style="left:1489.5px;top:1938.9px;width:400px;height:46px;line-height:46px;font-size:38.5px;color:#e2eef9;font-weight:bold;text-align:center;">(W/W)</div>
<div class="t" style="left:1697.5px;top:1889.9px;width:400px;height:46px;line-height:46px;font-size:38.5px;color:#e2eef9;font-weight:bold;text-align:center;">EER</div>
<div class="t" style="left:1697.5px;top:1938.9px;width:400px;height:46px;line-height:46px;font-size:38.5px;color:#e2eef9;font-weight:bold;text-align:center;">(Btu/ W h)</div>
<div class="t" style="left:1930.0px;top:1890.9px;width:400px;height:44px;line-height:44px;font-size:37px;color:#e2eef9;font-weight:bold;text-align:center;">Displacement</div>
<div class="t" style="left:1930.0px;top:1939.9px;width:400px;height:44px;line-height:44px;font-size:37px;color:#e2eef9;font-weight:bold;text-align:center;">(cc/ Rev.)</div>
<div class="t" style="left:2169.0px;top:1867.4px;width:400px;height:46px;line-height:46px;font-size:38.5px;color:#e2eef9;font-weight:bold;text-align:center;">Oil</div>
<div class="t" style="left:2169.0px;top:1914.4px;width:400px;height:46px;line-height:46px;font-size:38.5px;color:#e2eef9;font-weight:bold;text-align:center;">Quantity</div>
<div class="t" style="left:2169.0px;top:1961.4px;width:400px;height:46px;line-height:46px;font-size:38.5px;color:#e2eef9;font-weight:bold;text-align:center;">(l)</div>
<div class="t" style="left:2380.0px;top:1867.4px;width:400px;height:46px;line-height:46px;font-size:38.5px;color:#e2eef9;font-weight:bold;text-align:center;">Net</div>
<div class="t" style="left:2380.0px;top:1914.4px;width:400px;height:46px;line-height:46px;font-size:38.5px;color:#e2eef9;font-weight:bold;text-align:center;">Weight</div>
<div class="t" style="left:2380.0px;top:1961.4px;width:400px;height:46px;line-height:46px;font-size:38.5px;color:#e2eef9;font-weight:bold;text-align:center;">(kg)</div>
<div class="t" style="left:2591.0px;top:1889.9px;width:400px;height:46px;line-height:46px;font-size:38.5px;color:#e2eef9;font-weight:bold;text-align:center;">LRA</div>
<div class="t" style="left:2591.0px;top:1938.9px;width:400px;height:46px;line-height:46px;font-size:38.5px;color:#e2eef9;font-weight:bold;text-align:center;">(A)</div>
<div class="t" style="left:2811.0px;top:1872.7px;width:400px;height:43px;line-height:43px;font-size:36px;color:#e2eef9;font-weight:bold;text-align:center;">Sound</div>
<div class="t" style="left:2811.0px;top:1915.9px;width:400px;height:43px;line-height:43px;font-size:36px;color:#e2eef9;font-weight:bold;text-align:center;">Power @</div>
<div class="t" style="left:2811.0px;top:1959.1px;width:400px;height:43px;line-height:43px;font-size:36px;color:#e2eef9;font-weight:bold;text-align:center;">1 m (dBA)</div>
<div class="t" style="left:232.1px;top:2044.0px;height:47px;line-height:47px;font-size:39px;color:#161616;font-weight:normal;transform:scaleY(1.03);-webkit-text-stroke:0.7px #161616;">ZRD36KCE</div>
<div class="t" style="left:467.6px;top:2044.0px;height:47px;line-height:47px;font-size:39px;color:#161616;font-weight:normal;transform:scaleY(1.03);-webkit-text-stroke:0.7px #161616;">TFD</div>
<div class="t" style="left:490.5px;top:2044.0px;width:400px;height:47px;line-height:47px;font-size:39px;color:#161616;font-weight:normal;text-align:center;transform:scaleY(1.03);-webkit-text-stroke:0.7px #161616;">3.0</div>
<div class="t" style="left:696.0px;top:2044.0px;width:400px;height:47px;line-height:47px;font-size:39px;color:#161616;font-weight:normal;text-align:center;transform:scaleY(1.03);-webkit-text-stroke:0.7px #161616;">8,450</div>
<div class="t" style="left:899.0px;top:2044.0px;width:400px;height:47px;line-height:47px;font-size:39px;color:#161616;font-weight:normal;text-align:center;transform:scaleY(1.03);-webkit-text-stroke:0.7px #161616;">28,800</div>
<div class="t" style="left:1099.0px;top:2044.0px;width:400px;height:47px;line-height:47px;font-size:39px;color:#161616;font-weight:normal;text-align:center;transform:scaleY(1.03);-webkit-text-stroke:0.7px #161616;">2,610</div>
<div class="t" style="left:1291.5px;top:2044.0px;width:400px;height:47px;line-height:47px;font-size:39px;color:#161616;font-weight:normal;text-align:center;transform:scaleY(1.03);-webkit-text-stroke:0.7px #161616;">4.6</div>
<div class="t" style="left:1489.5px;top:2044.0px;width:400px;height:47px;line-height:47px;font-size:39px;color:#161616;font-weight:normal;text-align:center;transform:scaleY(1.03);-webkit-text-stroke:0.7px #161616;">3.24</div>
<div class="t" style="left:1697.5px;top:2044.0px;width:400px;height:47px;line-height:47px;font-size:39px;color:#161616;font-weight:normal;text-align:center;transform:scaleY(1.03);-webkit-text-stroke:0.7px #161616;">11.1</div>
<div class="t" style="left:1930.0px;top:2044.0px;width:400px;height:47px;line-height:47px;font-size:39px;color:#161616;font-weight:normal;text-align:center;transform:scaleY(1.03);-webkit-text-stroke:0.7px #161616;">48.0</div>
<div class="t" style="left:2169.0px;top:2044.0px;width:400px;height:47px;line-height:47px;font-size:39px;color:#161616;font-weight:normal;text-align:center;transform:scaleY(1.03);-webkit-text-stroke:0.7px #161616;">1.24</div>
<div class="t" style="left:2380.0px;top:2044.0px;width:400px;height:47px;line-height:47px;font-size:39px;color:#161616;font-weight:normal;text-align:center;transform:scaleY(1.03);-webkit-text-stroke:0.7px #161616;">27.3</div>
<div class="t" style="left:2591.0px;top:2044.0px;width:400px;height:47px;line-height:47px;font-size:39px;color:#161616;font-weight:normal;text-align:center;transform:scaleY(1.03);-webkit-text-stroke:0.7px #161616;">38.0</div>
<div class="t" style="left:2811.0px;top:2044.0px;width:400px;height:47px;line-height:47px;font-size:39px;color:#161616;font-weight:normal;text-align:center;transform:scaleY(1.03);-webkit-text-stroke:0.7px #161616;">73.0</div>
<div class="t" style="left:232.1px;top:2104.0px;height:47px;line-height:47px;font-size:39px;color:#161616;font-weight:normal;transform:scaleY(1.03);-webkit-text-stroke:0.7px #161616;">ZRD42KCE</div>
<div class="t" style="left:467.6px;top:2104.0px;height:47px;line-height:47px;font-size:39px;color:#161616;font-weight:normal;transform:scaleY(1.03);-webkit-text-stroke:0.7px #161616;">TFD</div>
<div class="t" style="left:490.5px;top:2104.0px;width:400px;height:47px;line-height:47px;font-size:39px;color:#161616;font-weight:normal;text-align:center;transform:scaleY(1.03);-webkit-text-stroke:0.7px #161616;">3.5</div>
<div class="t" style="left:696.0px;top:2104.0px;width:400px;height:47px;line-height:47px;font-size:39px;color:#161616;font-weight:normal;text-align:center;transform:scaleY(1.03);-webkit-text-stroke:0.7px #161616;">10,000</div>
<div class="t" style="left:899.0px;top:2104.0px;width:400px;height:47px;line-height:47px;font-size:39px;color:#161616;font-weight:normal;text-align:center;transform:scaleY(1.03);-webkit-text-stroke:0.7px #161616;">34,100</div>
<div class="t" style="left:1099.0px;top:2104.0px;width:400px;height:47px;line-height:47px;font-size:39px;color:#161616;font-weight:normal;text-align:center;transform:scaleY(1.03);-webkit-text-stroke:0.7px #161616;">3,130</div>
<div class="t" style="left:1291.5px;top:2104.0px;width:400px;height:47px;line-height:47px;font-size:39px;color:#161616;font-weight:normal;text-align:center;transform:scaleY(1.03);-webkit-text-stroke:0.7px #161616;">5.6</div>
<div class="t" style="left:1489.5px;top:2104.0px;width:400px;height:47px;line-height:47px;font-size:39px;color:#161616;font-weight:normal;text-align:center;transform:scaleY(1.03);-webkit-text-stroke:0.7px #161616;">3.19</div>
<div class="t" style="left:1697.5px;top:2104.0px;width:400px;height:47px;line-height:47px;font-size:39px;color:#161616;font-weight:normal;text-align:center;transform:scaleY(1.03);-webkit-text-stroke:0.7px #161616;">10.9</div>
<div class="t" style="left:1930.0px;top:2104.0px;width:400px;height:47px;line-height:47px;font-size:39px;color:#161616;font-weight:normal;text-align:center;transform:scaleY(1.03);-webkit-text-stroke:0.7px #161616;">57.2</div>
<div class="t" style="left:2169.0px;top:2104.0px;width:400px;height:47px;line-height:47px;font-size:39px;color:#161616;font-weight:normal;text-align:center;transform:scaleY(1.03);-webkit-text-stroke:0.7px #161616;">1.24</div>
<div class="t" style="left:2380.0px;top:2104.0px;width:400px;height:47px;line-height:47px;font-size:39px;color:#161616;font-weight:normal;text-align:center;transform:scaleY(1.03);-webkit-text-stroke:0.7px #161616;">31.2</div>
<div class="t" style="left:2591.0px;top:2104.0px;width:400px;height:47px;line-height:47px;font-size:39px;color:#161616;font-weight:normal;text-align:center;transform:scaleY(1.03);-webkit-text-stroke:0.7px #161616;">46.0</div>
<div class="t" style="left:2811.0px;top:2104.0px;width:400px;height:47px;line-height:47px;font-size:39px;color:#161616;font-weight:normal;text-align:center;transform:scaleY(1.03);-webkit-text-stroke:0.7px #161616;">71.0</div>
<div class="t" style="left:232.1px;top:2165.0px;height:47px;line-height:47px;font-size:39px;color:#161616;font-weight:normal;transform:scaleY(1.03);-webkit-text-stroke:0.7px #161616;">ZRD48KCE</div>
<div class="t" style="left:467.6px;top:2165.0px;height:47px;line-height:47px;font-size:39px;color:#161616;font-weight:normal;transform:scaleY(1.03);-webkit-text-stroke:0.7px #161616;">TFD</div>
<div class="t" style="left:490.5px;top:2165.0px;width:400px;height:47px;line-height:47px;font-size:39px;color:#161616;font-weight:normal;text-align:center;transform:scaleY(1.03);-webkit-text-stroke:0.7px #161616;">4.0</div>
<div class="t" style="left:696.0px;top:2165.0px;width:400px;height:47px;line-height:47px;font-size:39px;color:#161616;font-weight:normal;text-align:center;transform:scaleY(1.03);-webkit-text-stroke:0.7px #161616;">12,050</div>
<div class="t" style="left:899.0px;top:2165.0px;width:400px;height:47px;line-height:47px;font-size:39px;color:#161616;font-weight:normal;text-align:center;transform:scaleY(1.03);-webkit-text-stroke:0.7px #161616;">41,200</div>
<div class="t" style="left:1099.0px;top:2165.0px;width:400px;height:47px;line-height:47px;font-size:39px;color:#161616;font-weight:normal;text-align:center;transform:scaleY(1.03);-webkit-text-stroke:0.7px #161616;">3,780</div>
<div class="t" style="left:1291.5px;top:2165.0px;width:400px;height:47px;line-height:47px;font-size:39px;color:#161616;font-weight:normal;text-align:center;transform:scaleY(1.03);-webkit-text-stroke:0.7px #161616;">6.6</div>
<div class="t" style="left:1489.5px;top:2165.0px;width:400px;height:47px;line-height:47px;font-size:39px;color:#161616;font-weight:normal;text-align:center;transform:scaleY(1.03);-webkit-text-stroke:0.7px #161616;">3.19</div>
<div class="t" style="left:1697.5px;top:2165.0px;width:400px;height:47px;line-height:47px;font-size:39px;color:#161616;font-weight:normal;text-align:center;transform:scaleY(1.03);-webkit-text-stroke:0.7px #161616;">10.9</div>
<div class="t" style="left:1930.0px;top:2165.0px;width:400px;height:47px;line-height:47px;font-size:39px;color:#161616;font-weight:normal;text-align:center;transform:scaleY(1.03);-webkit-text-stroke:0.7px #161616;">65.6</div>
<div class="t" style="left:2169.0px;top:2165.0px;width:400px;height:47px;line-height:47px;font-size:39px;color:#161616;font-weight:normal;text-align:center;transform:scaleY(1.03);-webkit-text-stroke:0.7px #161616;">1.36</div>
<div class="t" style="left:2380.0px;top:2165.0px;width:400px;height:47px;line-height:47px;font-size:39px;color:#161616;font-weight:normal;text-align:center;transform:scaleY(1.03);-webkit-text-stroke:0.7px #161616;">32.7</div>
<div class="t" style="left:2591.0px;top:2165.0px;width:400px;height:47px;line-height:47px;font-size:39px;color:#161616;font-weight:normal;text-align:center;transform:scaleY(1.03);-webkit-text-stroke:0.7px #161616;">48.0</div>
<div class="t" style="left:2811.0px;top:2165.0px;width:400px;height:47px;line-height:47px;font-size:39px;color:#161616;font-weight:normal;text-align:center;transform:scaleY(1.03);-webkit-text-stroke:0.7px #161616;">75.0</div>
<div class="t" style="left:232.1px;top:2225.0px;height:47px;line-height:47px;font-size:39px;color:#161616;font-weight:normal;transform:scaleY(1.03);-webkit-text-stroke:0.7px #161616;">ZRD49KCE</div>
<div class="t" style="left:467.6px;top:2225.0px;height:47px;line-height:47px;font-size:39px;color:#161616;font-weight:normal;transform:scaleY(1.03);-webkit-text-stroke:0.7px #161616;">TFD</div>
<div class="t" style="left:490.5px;top:2225.0px;width:400px;height:47px;line-height:47px;font-size:39px;color:#161616;font-weight:normal;text-align:center;transform:scaleY(1.03);-webkit-text-stroke:0.7px #161616;">4.0</div>
<div class="t" style="left:696.0px;top:2225.0px;width:400px;height:47px;line-height:47px;font-size:39px;color:#161616;font-weight:normal;text-align:center;transform:scaleY(1.03);-webkit-text-stroke:0.7px #161616;">11,200</div>
<div class="t" style="left:899.0px;top:2225.0px;width:400px;height:47px;line-height:47px;font-size:39px;color:#161616;font-weight:normal;text-align:center;transform:scaleY(1.03);-webkit-text-stroke:0.7px #161616;">38,300</div>
<div class="t" style="left:1099.0px;top:2225.0px;width:400px;height:47px;line-height:47px;font-size:39px;color:#161616;font-weight:normal;text-align:center;transform:scaleY(1.03);-webkit-text-stroke:0.7px #161616;">3,700</div>
<div class="t" style="left:1291.5px;top:2225.0px;width:400px;height:47px;line-height:47px;font-size:39px;color:#161616;font-weight:normal;text-align:center;transform:scaleY(1.03);-webkit-text-stroke:0.7px #161616;">6.9</div>
<div class="t" style="left:1489.5px;top:2225.0px;width:400px;height:47px;line-height:47px;font-size:39px;color:#161616;font-weight:normal;text-align:center;transform:scaleY(1.03);-webkit-text-stroke:0.7px #161616;">3.05</div>
<div class="t" style="left:1697.5px;top:2225.0px;width:400px;height:47px;line-height:47px;font-size:39px;color:#161616;font-weight:normal;text-align:center;transform:scaleY(1.03);-webkit-text-stroke:0.7px #161616;">10.4</div>
<div class="t" style="left:1930.0px;top:2225.0px;width:400px;height:47px;line-height:47px;font-size:39px;color:#161616;font-weight:normal;text-align:center;transform:scaleY(1.03);-webkit-text-stroke:0.7px #161616;">67.1</div>
<div class="t" style="left:2169.0px;top:2225.0px;width:400px;height:47px;line-height:47px;font-size:39px;color:#161616;font-weight:normal;text-align:center;transform:scaleY(1.03);-webkit-text-stroke:0.7px #161616;">1.89</div>
<div class="t" style="left:2380.0px;top:2225.0px;width:400px;height:47px;line-height:47px;font-size:39px;color:#161616;font-weight:normal;text-align:center;transform:scaleY(1.03);-webkit-text-stroke:0.7px #161616;">42.6</div>
<div class="t" style="left:2591.0px;top:2225.0px;width:400px;height:47px;line-height:47px;font-size:39px;color:#161616;font-weight:normal;text-align:center;transform:scaleY(1.03);-webkit-text-stroke:0.7px #161616;">51.5</div>
<div class="t" style="left:2811.0px;top:2225.0px;width:400px;height:47px;line-height:47px;font-size:39px;color:#161616;font-weight:normal;text-align:center;transform:scaleY(1.03);-webkit-text-stroke:0.7px #161616;">72.0</div>
<div class="t" style="left:232.1px;top:2286.0px;height:47px;line-height:47px;font-size:39px;color:#161616;font-weight:normal;transform:scaleY(1.03);-webkit-text-stroke:0.7px #161616;">ZRD61KCE</div>
<div class="t" style="left:467.6px;top:2286.0px;height:47px;line-height:47px;font-size:39px;color:#161616;font-weight:normal;transform:scaleY(1.03);-webkit-text-stroke:0.7px #161616;">TFD</div>
<div class="t" style="left:490.5px;top:2286.0px;width:400px;height:47px;line-height:47px;font-size:39px;color:#161616;font-weight:normal;text-align:center;transform:scaleY(1.03);-webkit-text-stroke:0.7px #161616;">5.0</div>
<div class="t" style="left:696.0px;top:2286.0px;width:400px;height:47px;line-height:47px;font-size:39px;color:#161616;font-weight:normal;text-align:center;transform:scaleY(1.03);-webkit-text-stroke:0.7px #161616;">14,150</div>
<div class="t" style="left:899.0px;top:2286.0px;width:400px;height:47px;line-height:47px;font-size:39px;color:#161616;font-weight:normal;text-align:center;transform:scaleY(1.03);-webkit-text-stroke:0.7px #161616;">48,300</div>
<div class="t" style="left:1099.0px;top:2286.0px;width:400px;height:47px;line-height:47px;font-size:39px;color:#161616;font-weight:normal;text-align:center;transform:scaleY(1.03);-webkit-text-stroke:0.7px #161616;">4,610</div>
<div class="t" style="left:1291.5px;top:2286.0px;width:400px;height:47px;line-height:47px;font-size:39px;color:#161616;font-weight:normal;text-align:center;transform:scaleY(1.03);-webkit-text-stroke:0.7px #161616;">8.1</div>
<div class="t" style="left:1489.5px;top:2286.0px;width:400px;height:47px;line-height:47px;font-size:39px;color:#161616;font-weight:normal;text-align:center;transform:scaleY(1.03);-webkit-text-stroke:0.7px #161616;">3.08</div>
<div class="t" style="left:1697.5px;top:2286.0px;width:400px;height:47px;line-height:47px;font-size:39px;color:#161616;font-weight:normal;text-align:center;transform:scaleY(1.03);-webkit-text-stroke:0.7px #161616;">10.5</div>
<div class="t" style="left:1930.0px;top:2286.0px;width:400px;height:47px;line-height:47px;font-size:39px;color:#161616;font-weight:normal;text-align:center;transform:scaleY(1.03);-webkit-text-stroke:0.7px #161616;">82.6</div>
<div class="t" style="left:2169.0px;top:2286.0px;width:400px;height:47px;line-height:47px;font-size:39px;color:#161616;font-weight:normal;text-align:center;transform:scaleY(1.03);-webkit-text-stroke:0.7px #161616;">1.89</div>
<div class="t" style="left:2380.0px;top:2286.0px;width:400px;height:47px;line-height:47px;font-size:39px;color:#161616;font-weight:normal;text-align:center;transform:scaleY(1.03);-webkit-text-stroke:0.7px #161616;">38.1</div>
<div class="t" style="left:2591.0px;top:2286.0px;width:400px;height:47px;line-height:47px;font-size:39px;color:#161616;font-weight:normal;text-align:center;transform:scaleY(1.03);-webkit-text-stroke:0.7px #161616;">64.0</div>
<div class="t" style="left:2811.0px;top:2286.0px;width:400px;height:47px;line-height:47px;font-size:39px;color:#161616;font-weight:normal;text-align:center;transform:scaleY(1.03);-webkit-text-stroke:0.7px #161616;">76.0</div>
<div class="t" style="left:232.1px;top:2345.0px;height:47px;line-height:47px;font-size:39px;color:#161616;font-weight:normal;transform:scaleY(1.03);-webkit-text-stroke:0.7px #161616;">ZRD68KCE</div>
<div class="t" style="left:467.6px;top:2345.0px;height:47px;line-height:47px;font-size:39px;color:#161616;font-weight:normal;transform:scaleY(1.03);-webkit-text-stroke:0.7px #161616;">TFD</div>
<div class="t" style="left:490.5px;top:2345.0px;width:400px;height:47px;line-height:47px;font-size:39px;color:#161616;font-weight:normal;text-align:center;transform:scaleY(1.03);-webkit-text-stroke:0.7px #161616;">6.0</div>
<div class="t" style="left:696.0px;top:2345.0px;width:400px;height:47px;line-height:47px;font-size:39px;color:#161616;font-weight:normal;text-align:center;transform:scaleY(1.03);-webkit-text-stroke:0.7px #161616;">15,700</div>
<div class="t" style="left:899.0px;top:2345.0px;width:400px;height:47px;line-height:47px;font-size:39px;color:#161616;font-weight:normal;text-align:center;transform:scaleY(1.03);-webkit-text-stroke:0.7px #161616;">53,500</div>
<div class="t" style="left:1099.0px;top:2345.0px;width:400px;height:47px;line-height:47px;font-size:39px;color:#161616;font-weight:normal;text-align:center;transform:scaleY(1.03);-webkit-text-stroke:0.7px #161616;">5,200</div>
<div class="t" style="left:1291.5px;top:2345.0px;width:400px;height:47px;line-height:47px;font-size:39px;color:#161616;font-weight:normal;text-align:center;transform:scaleY(1.03);-webkit-text-stroke:0.7px #161616;">9.2</div>
<div class="t" style="left:1489.5px;top:2345.0px;width:400px;height:47px;line-height:47px;font-size:39px;color:#161616;font-weight:normal;text-align:center;transform:scaleY(1.03);-webkit-text-stroke:0.7px #161616;">3.02</div>
<div class="t" style="left:1697.5px;top:2345.0px;width:400px;height:47px;line-height:47px;font-size:39px;color:#161616;font-weight:normal;text-align:center;transform:scaleY(1.03);-webkit-text-stroke:0.7px #161616;">10.3</div>
<div class="t" style="left:1930.0px;top:2345.0px;width:400px;height:47px;line-height:47px;font-size:39px;color:#161616;font-weight:normal;text-align:center;transform:scaleY(1.03);-webkit-text-stroke:0.7px #161616;">93.0</div>
<div class="t" style="left:2169.0px;top:2345.0px;width:400px;height:47px;line-height:47px;font-size:39px;color:#161616;font-weight:normal;text-align:center;transform:scaleY(1.03);-webkit-text-stroke:0.7px #161616;">1.89</div>
<div class="t" style="left:2380.0px;top:2345.0px;width:400px;height:47px;line-height:47px;font-size:39px;color:#161616;font-weight:normal;text-align:center;transform:scaleY(1.03);-webkit-text-stroke:0.7px #161616;">40.2</div>
<div class="t" style="left:2591.0px;top:2345.0px;width:400px;height:47px;line-height:47px;font-size:39px;color:#161616;font-weight:normal;text-align:center;transform:scaleY(1.03);-webkit-text-stroke:0.7px #161616;">74.0</div>
<div class="t" style="left:2811.0px;top:2345.0px;width:400px;height:47px;line-height:47px;font-size:39px;color:#161616;font-weight:normal;text-align:center;transform:scaleY(1.03);-webkit-text-stroke:0.7px #161616;">74.0</div>
<div class="t" style="left:232.1px;top:2406.0px;height:47px;line-height:47px;font-size:39px;color:#161616;font-weight:normal;transform:scaleY(1.03);-webkit-text-stroke:0.7px #161616;">ZRD72KCE</div>
<div class="t" style="left:467.6px;top:2406.0px;height:47px;line-height:47px;font-size:39px;color:#161616;font-weight:normal;transform:scaleY(1.03);-webkit-text-stroke:0.7px #161616;">TFD</div>
<div class="t" style="left:490.5px;top:2406.0px;width:400px;height:47px;line-height:47px;font-size:39px;color:#161616;font-weight:normal;text-align:center;transform:scaleY(1.03);-webkit-text-stroke:0.7px #161616;">6.0</div>
<div class="t" style="left:696.0px;top:2406.0px;width:400px;height:47px;line-height:47px;font-size:39px;color:#161616;font-weight:normal;text-align:center;transform:scaleY(1.03);-webkit-text-stroke:0.7px #161616;">16,900</div>
<div class="t" style="left:899.0px;top:2406.0px;width:400px;height:47px;line-height:47px;font-size:39px;color:#161616;font-weight:normal;text-align:center;transform:scaleY(1.03);-webkit-text-stroke:0.7px #161616;">57,500</div>
<div class="t" style="left:1099.0px;top:2406.0px;width:400px;height:47px;line-height:47px;font-size:39px;color:#161616;font-weight:normal;text-align:center;transform:scaleY(1.03);-webkit-text-stroke:0.7px #161616;">5,350</div>
<div class="t" style="left:1291.5px;top:2406.0px;width:400px;height:47px;line-height:47px;font-size:39px;color:#161616;font-weight:normal;text-align:center;transform:scaleY(1.03);-webkit-text-stroke:0.7px #161616;">9.3</div>
<div class="t" style="left:1489.5px;top:2406.0px;width:400px;height:47px;line-height:47px;font-size:39px;color:#161616;font-weight:normal;text-align:center;transform:scaleY(1.03);-webkit-text-stroke:0.7px #161616;">3.14</div>
<div class="t" style="left:1697.5px;top:2406.0px;width:400px;height:47px;line-height:47px;font-size:39px;color:#161616;font-weight:normal;text-align:center;transform:scaleY(1.03);-webkit-text-stroke:0.7px #161616;">10.7</div>
<div class="t" style="left:1930.0px;top:2406.0px;width:400px;height:47px;line-height:47px;font-size:39px;color:#161616;font-weight:normal;text-align:center;transform:scaleY(1.03);-webkit-text-stroke:0.7px #161616;">98.1</div>
<div class="t" style="left:2169.0px;top:2406.0px;width:400px;height:47px;line-height:47px;font-size:39px;color:#161616;font-weight:normal;text-align:center;transform:scaleY(1.03);-webkit-text-stroke:0.7px #161616;">1.89</div>
<div class="t" style="left:2380.0px;top:2406.0px;width:400px;height:47px;line-height:47px;font-size:39px;color:#161616;font-weight:normal;text-align:center;transform:scaleY(1.03);-webkit-text-stroke:0.7px #161616;">39.9</div>
<div class="t" style="left:2591.0px;top:2406.0px;width:400px;height:47px;line-height:47px;font-size:39px;color:#161616;font-weight:normal;text-align:center;transform:scaleY(1.03);-webkit-text-stroke:0.7px #161616;">74.0</div>
<div class="t" style="left:2811.0px;top:2406.0px;width:400px;height:47px;line-height:47px;font-size:39px;color:#161616;font-weight:normal;text-align:center;transform:scaleY(1.03);-webkit-text-stroke:0.7px #161616;">74.0</div>
<div class="t" style="left:232.1px;top:2465.0px;height:47px;line-height:47px;font-size:39px;color:#161616;font-weight:normal;transform:scaleY(1.03);-webkit-text-stroke:0.7px #161616;">ZRD81KCE</div>
<div class="t" style="left:467.6px;top:2465.0px;height:47px;line-height:47px;font-size:39px;color:#161616;font-weight:normal;transform:scaleY(1.03);-webkit-text-stroke:0.7px #161616;">TFD</div>
<div class="t" style="left:490.5px;top:2465.0px;width:400px;height:47px;line-height:47px;font-size:39px;color:#161616;font-weight:normal;text-align:center;transform:scaleY(1.03);-webkit-text-stroke:0.7px #161616;">7.0</div>
<div class="t" style="left:696.0px;top:2465.0px;width:400px;height:47px;line-height:47px;font-size:39px;color:#161616;font-weight:normal;text-align:center;transform:scaleY(1.03);-webkit-text-stroke:0.7px #161616;">20,100</div>
<div class="t" style="left:899.0px;top:2465.0px;width:400px;height:47px;line-height:47px;font-size:39px;color:#161616;font-weight:normal;text-align:center;transform:scaleY(1.03);-webkit-text-stroke:0.7px #161616;">68,500</div>
<div class="t" style="left:1099.0px;top:2465.0px;width:400px;height:47px;line-height:47px;font-size:39px;color:#161616;font-weight:normal;text-align:center;transform:scaleY(1.03);-webkit-text-stroke:0.7px #161616;">6,450</div>
<div class="t" style="left:1291.5px;top:2465.0px;width:400px;height:47px;line-height:47px;font-size:39px;color:#161616;font-weight:normal;text-align:center;transform:scaleY(1.03);-webkit-text-stroke:0.7px #161616;">12.0</div>
<div class="t" style="left:1489.5px;top:2465.0px;width:400px;height:47px;line-height:47px;font-size:39px;color:#161616;font-weight:normal;text-align:center;transform:scaleY(1.03);-webkit-text-stroke:0.7px #161616;">3.11</div>
<div class="t" style="left:1697.5px;top:2465.0px;width:400px;height:47px;line-height:47px;font-size:39px;color:#161616;font-weight:normal;text-align:center;transform:scaleY(1.03);-webkit-text-stroke:0.7px #161616;">10.6</div>
<div class="t" style="left:1930.0px;top:2465.0px;width:400px;height:47px;line-height:47px;font-size:39px;color:#161616;font-weight:normal;text-align:center;transform:scaleY(1.03);-webkit-text-stroke:0.7px #161616;">107.8</div>
<div class="t" style="left:2169.0px;top:2465.0px;width:400px;height:47px;line-height:47px;font-size:39px;color:#161616;font-weight:normal;text-align:center;transform:scaleY(1.03);-webkit-text-stroke:0.7px #161616;">1.89</div>
<div class="t" style="left:2380.0px;top:2465.0px;width:400px;height:47px;line-height:47px;font-size:39px;color:#161616;font-weight:normal;text-align:center;transform:scaleY(1.03);-webkit-text-stroke:0.7px #161616;">40.8</div>
<div class="t" style="left:2591.0px;top:2465.0px;width:400px;height:47px;line-height:47px;font-size:39px;color:#161616;font-weight:normal;text-align:center;transform:scaleY(1.03);-webkit-text-stroke:0.7px #161616;">100.0</div>
<div class="t" style="left:2811.0px;top:2465.0px;width:400px;height:47px;line-height:47px;font-size:39px;color:#161616;font-weight:normal;text-align:center;transform:scaleY(1.03);-webkit-text-stroke:0.7px #161616;">78.0</div>
<div class="hdr" style="left:195px;top:2757px;width:2927px;height:205px"></div>
<div class="mcol" style="left:195px;top:2962px;width:393px;height:802px"></div>
<div class="hl" style="left:587px;top:2757px;width:2px;height:205px"></div>
<div class="hl" style="left:792px;top:2757px;width:2px;height:205px"></div>
<div class="hl" style="left:996px;top:2860px;width:2px;height:102px"></div>
<div class="hl" style="left:1198px;top:2757px;width:2px;height:205px"></div>
<div class="hl" style="left:1398px;top:2757px;width:2px;height:205px"></div>
<div class="hl" style="left:1583px;top:2757px;width:2px;height:205px"></div>
<div class="hl" style="left:1799px;top:2757px;width:2px;height:205px"></div>
<div class="hl" style="left:2001px;top:2757px;width:2px;height:205px"></div>
<div class="hl" style="left:2262px;top:2757px;width:2px;height:205px"></div>
<div class="hl" style="left:2479px;top:2757px;width:2px;height:205px"></div>
<div class="hl" style="left:2690px;top:2757px;width:2px;height:205px"></div>
<div class="hl" style="left:2895px;top:2757px;width:2px;height:205px"></div>
<div class="hl" style="left:793px;top:2859px;width:406px;height:2px"></div>
<div class="gl" style="left:194px;top:2962px;width:3px;height:803px"></div>
<div class="gl" style="left:587px;top:2962px;width:3px;height:803px"></div>
<div class="gl" style="left:792px;top:2962px;width:3px;height:803px"></div>
<div class="gl" style="left:996px;top:2962px;width:3px;height:803px"></div>
<div class="gl" style="left:1198px;top:2962px;width:3px;height:803px"></div>
<div class="gl" style="left:1398px;top:2962px;width:3px;height:803px"></div>
<div class="gl" style="left:1583px;top:2962px;width:3px;height:803px"></div>
<div class="gl" style="left:1799px;top:2962px;width:3px;height:803px"></div>
<div class="gl" style="left:2001px;top:2962px;width:3px;height:803px"></div>
<div class="gl" style="left:2262px;top:2962px;width:3px;height:803px"></div>
<div class="gl" style="left:2479px;top:2962px;width:3px;height:803px"></div>
<div class="gl" style="left:2690px;top:2962px;width:3px;height:803px"></div>
<div class="gl" style="left:2895px;top:2962px;width:3px;height:803px"></div>
<div class="gl" style="left:3121px;top:2962px;width:3px;height:803px"></div>
<div class="gl" style="left:194px;top:3060px;width:2929px;height:3px"></div>
<div class="gl" style="left:194px;top:3119px;width:2929px;height:3px"></div>
<div class="gl" style="left:194px;top:3261px;width:2929px;height:3px"></div>
<div class="gl" style="left:194px;top:3321px;width:2929px;height:3px"></div>
<div class="gl" style="left:194px;top:3461px;width:2929px;height:3px"></div>
<div class="gl" style="left:194px;top:3521px;width:2929px;height:3px"></div>
<div class="gl" style="left:194px;top:3661px;width:2929px;height:3px"></div>
<div class="gl" style="left:194px;top:3763px;width:2929px;height:3px"></div>
<div class="t" style="left:191.5px;top:2829.4px;width:400px;height:66px;line-height:66px;font-size:55px;color:#e2eef9;font-weight:bold;text-align:center;">Model</div>
<div class="t" style="left:490.5px;top:2815.9px;width:400px;height:46px;line-height:46px;font-size:38.5px;color:#e2eef9;font-weight:bold;text-align:center;">Nominal</div>
<div class="t" style="left:490.5px;top:2862.9px;width:400px;height:46px;line-height:46px;font-size:38.5px;color:#e2eef9;font-weight:bold;text-align:center;">HP</div>
<div class="t" style="left:796.0px;top:2787.4px;width:400px;height:46px;line-height:46px;font-size:38.5px;color:#e2eef9;font-weight:bold;text-align:center;">Capacity</div>
<div class="t" style="left:695.0px;top:2890.9px;width:400px;height:46px;line-height:46px;font-size:38.5px;color:#e2eef9;font-weight:bold;text-align:center;">(W)</div>
<div class="t" style="left:898.0px;top:2890.9px;width:400px;height:46px;line-height:46px;font-size:38.5px;color:#e2eef9;font-weight:bold;text-align:center;">(Btu/h)</div>
<div class="t" style="left:1099.0px;top:2793.4px;width:400px;height:46px;line-height:46px;font-size:38.5px;color:#e2eef9;font-weight:bold;text-align:center;">Input</div>
<div class="t" style="left:1099.0px;top:2839.4px;width:400px;height:46px;line-height:46px;font-size:38.5px;color:#e2eef9;font-weight:bold;text-align:center;">Power</div>
<div class="t" style="left:1099.0px;top:2885.4px;width:400px;height:46px;line-height:46px;font-size:38.5px;color:#e2eef9;font-weight:bold;text-align:center;">(W)</div>
<div class="t" style="left:1291.5px;top:2814.9px;width:400px;height:46px;line-height:46px;font-size:38.5px;color:#e2eef9;font-weight:bold;text-align:center;">Current</div>
<div class="t" style="left:1291.5px;top:2863.9px;width:400px;height:46px;line-height:46px;font-size:38.5px;color:#e2eef9;font-weight:bold;text-align:center;">(A)</div>
<div class="t" style="left:1492.0px;top:2814.9px;width:400px;height:46px;line-height:46px;font-size:38.5px;color:#e2eef9;font-weight:bold;text-align:center;">COP</div>
<div class="t" style="left:1492.0px;top:2863.9px;width:400px;height:46px;line-height:46px;font-size:38.5px;color:#e2eef9;font-weight:bold;text-align:center;">(W/W)</div>
<div class="t" style="left:1701.0px;top:2814.9px;width:400px;height:46px;line-height:46px;font-size:38.5px;color:#e2eef9;font-weight:bold;text-align:center;">EER</div>
<div class="t" style="left:1701.0px;top:2863.9px;width:400px;height:46px;line-height:46px;font-size:38.5px;color:#e2eef9;font-weight:bold;text-align:center;">(Btu/ W h)</div>
<div class="t" style="left:1932.5px;top:2815.9px;width:400px;height:44px;line-height:44px;font-size:37px;color:#e2eef9;font-weight:bold;text-align:center;">Displacement</div>
<div class="t" style="left:1932.5px;top:2864.9px;width:400px;height:44px;line-height:44px;font-size:37px;color:#e2eef9;font-weight:bold;text-align:center;">(cc/ Rev.)</div>
<div class="t" style="left:2171.5px;top:2792.4px;width:400px;height:46px;line-height:46px;font-size:38.5px;color:#e2eef9;font-weight:bold;text-align:center;">Oil</div>
<div class="t" style="left:2171.5px;top:2839.4px;width:400px;height:46px;line-height:46px;font-size:38.5px;color:#e2eef9;font-weight:bold;text-align:center;">Quantity</div>
<div class="t" style="left:2171.5px;top:2886.4px;width:400px;height:46px;line-height:46px;font-size:38.5px;color:#e2eef9;font-weight:bold;text-align:center;">(l)</div>
<div class="t" style="left:2385.5px;top:2792.4px;width:400px;height:46px;line-height:46px;font-size:38.5px;color:#e2eef9;font-weight:bold;text-align:center;">Net</div>
<div class="t" style="left:2385.5px;top:2839.4px;width:400px;height:46px;line-height:46px;font-size:38.5px;color:#e2eef9;font-weight:bold;text-align:center;">Weight</div>
<div class="t" style="left:2385.5px;top:2886.4px;width:400px;height:46px;line-height:46px;font-size:38.5px;color:#e2eef9;font-weight:bold;text-align:center;">(kg)</div>
<div class="t" style="left:2593.5px;top:2814.9px;width:400px;height:46px;line-height:46px;font-size:38.5px;color:#e2eef9;font-weight:bold;text-align:center;">LRA</div>
<div class="t" style="left:2593.5px;top:2863.9px;width:400px;height:46px;line-height:46px;font-size:38.5px;color:#e2eef9;font-weight:bold;text-align:center;">(A)</div>
<div class="t" style="left:2809.0px;top:2797.7px;width:400px;height:43px;line-height:43px;font-size:36px;color:#e2eef9;font-weight:bold;text-align:center;">Sound</div>
<div class="t" style="left:2809.0px;top:2840.9px;width:400px;height:43px;line-height:43px;font-size:36px;color:#e2eef9;font-weight:bold;text-align:center;">Power @</div>
<div class="t" style="left:2809.0px;top:2884.1px;width:400px;height:43px;line-height:43px;font-size:36px;color:#e2eef9;font-weight:bold;text-align:center;">1 m (dBA)</div>
<div class="t" style="left:238.2px;top:2968.5px;height:47px;line-height:47px;font-size:39px;color:#161616;font-weight:normal;transform:scaleY(1.03);-webkit-text-stroke:0.7px #161616;">ZRD36KCE</div>
<div class="t" style="left:470.1px;top:2968.5px;height:47px;line-height:47px;font-size:39px;color:#161616;font-weight:normal;transform:scaleY(1.03);-webkit-text-stroke:0.7px #161616;">TF5</div>
<div class="t" style="left:470.1px;top:3014.5px;height:47px;line-height:47px;font-size:39px;color:#161616;font-weight:normal;transform:scaleY(1.03);-webkit-text-stroke:0.7px #161616;">TF7</div>
<div class="t" style="left:490.5px;top:2968.5px;width:400px;height:47px;line-height:47px;font-size:39px;color:#161616;font-weight:normal;text-align:center;transform:scaleY(1.03);-webkit-text-stroke:0.7px #161616;">3.0</div>
<div class="t" style="left:695.0px;top:2968.5px;width:400px;height:47px;line-height:47px;font-size:39px;color:#161616;font-weight:normal;text-align:center;transform:scaleY(1.03);-webkit-text-stroke:0.7px #161616;">10,750</div>
<div class="t" style="left:695.0px;top:3014.5px;width:400px;height:47px;line-height:47px;font-size:39px;color:#161616;font-weight:normal;text-align:center;transform:scaleY(1.03);-webkit-text-stroke:0.7px #161616;">10,150</div>
<div class="t" style="left:898.0px;top:2968.5px;width:400px;height:47px;line-height:47px;font-size:39px;color:#161616;font-weight:normal;text-align:center;transform:scaleY(1.03);-webkit-text-stroke:0.7px #161616;">36,700</div>
<div class="t" style="left:898.0px;top:3014.5px;width:400px;height:47px;line-height:47px;font-size:39px;color:#161616;font-weight:normal;text-align:center;transform:scaleY(1.03);-webkit-text-stroke:0.7px #161616;">34,700</div>
<div class="t" style="left:1099.0px;top:2968.5px;width:400px;height:47px;line-height:47px;font-size:39px;color:#161616;font-weight:normal;text-align:center;transform:scaleY(1.03);-webkit-text-stroke:0.7px #161616;">3,350</div>
<div class="t" style="left:1099.0px;top:3014.5px;width:400px;height:47px;line-height:47px;font-size:39px;color:#161616;font-weight:normal;text-align:center;transform:scaleY(1.03);-webkit-text-stroke:0.7px #161616;">3,150</div>
<div class="t" style="left:1291.5px;top:2968.5px;width:400px;height:47px;line-height:47px;font-size:39px;color:#161616;font-weight:normal;text-align:center;transform:scaleY(1.03);-webkit-text-stroke:0.7px #161616;">10.0</div>
<div class="t" style="left:1291.5px;top:3014.5px;width:400px;height:47px;line-height:47px;font-size:39px;color:#161616;font-weight:normal;text-align:center;transform:scaleY(1.03);-webkit-text-stroke:0.7px #161616;">5.5</div>
<div class="t" style="left:1492.0px;top:2968.5px;width:400px;height:47px;line-height:47px;font-size:39px;color:#161616;font-weight:normal;text-align:center;transform:scaleY(1.03);-webkit-text-stroke:0.7px #161616;">3.19</div>
<div class="t" style="left:1492.0px;top:3014.5px;width:400px;height:47px;line-height:47px;font-size:39px;color:#161616;font-weight:normal;text-align:center;transform:scaleY(1.03);-webkit-text-stroke:0.7px #161616;">3.22</div>
<div class="t" style="left:1701.0px;top:2968.5px;width:400px;height:47px;line-height:47px;font-size:39px;color:#161616;font-weight:normal;text-align:center;transform:scaleY(1.03);-webkit-text-stroke:0.7px #161616;">10.9</div>
<div class="t" style="left:1701.0px;top:3014.5px;width:400px;height:47px;line-height:47px;font-size:39px;color:#161616;font-weight:normal;text-align:center;transform:scaleY(1.03);-webkit-text-stroke:0.7px #161616;">11.0</div>
<div class="t" style="left:1932.5px;top:2968.5px;width:400px;height:47px;line-height:47px;font-size:39px;color:#161616;font-weight:normal;text-align:center;transform:scaleY(1.03);-webkit-text-stroke:0.7px #161616;">48.0</div>
<div class="t" style="left:2171.5px;top:2968.5px;width:400px;height:47px;line-height:47px;font-size:39px;color:#161616;font-weight:normal;text-align:center;transform:scaleY(1.03);-webkit-text-stroke:0.7px #161616;">1.24</div>
<div class="t" style="left:2385.5px;top:2968.5px;width:400px;height:47px;line-height:47px;font-size:39px;color:#161616;font-weight:normal;text-align:center;transform:scaleY(1.03);-webkit-text-stroke:0.7px #161616;">30.2</div>
<div class="t" style="left:2385.5px;top:3014.5px;width:400px;height:47px;line-height:47px;font-size:39px;color:#161616;font-weight:normal;text-align:center;transform:scaleY(1.03);-webkit-text-stroke:0.7px #161616;">27.2</div>
<div class="t" style="left:2593.5px;top:2968.5px;width:400px;height:47px;line-height:47px;font-size:39px;color:#161616;font-weight:normal;text-align:center;transform:scaleY(1.03);-webkit-text-stroke:0.7px #161616;">77.0</div>
<div class="t" style="left:2593.5px;top:3014.5px;width:400px;height:47px;line-height:47px;font-size:39px;color:#161616;font-weight:normal;text-align:center;transform:scaleY(1.03);-webkit-text-stroke:0.7px #161616;">38.0</div>
<div class="t" style="left:2809.0px;top:2968.5px;width:400px;height:47px;line-height:47px;font-size:39px;color:#161616;font-weight:normal;text-align:center;transform:scaleY(1.03);-webkit-text-stroke:0.7px #161616;">73.0</div>
<div class="t" style="left:2809.0px;top:3014.5px;width:400px;height:47px;line-height:47px;font-size:39px;color:#161616;font-weight:normal;text-align:center;transform:scaleY(1.03);-webkit-text-stroke:0.7px #161616;">73.0</div>
<div class="t" style="left:238.2px;top:3067.5px;height:47px;line-height:47px;font-size:39px;color:#161616;font-weight:normal;transform:scaleY(1.03);-webkit-text-stroke:0.7px #161616;">ZRD42KCE</div>
<div class="t" style="left:470.1px;top:3067.5px;height:47px;line-height:47px;font-size:39px;color:#161616;font-weight:normal;transform:scaleY(1.03);-webkit-text-stroke:0.7px #161616;">TFD</div>
<div class="t" style="left:490.5px;top:3067.5px;width:400px;height:47px;line-height:47px;font-size:39px;color:#161616;font-weight:normal;text-align:center;transform:scaleY(1.03);-webkit-text-stroke:0.7px #161616;">3.5</div>
<div class="t" style="left:695.0px;top:3067.5px;width:400px;height:47px;line-height:47px;font-size:39px;color:#161616;font-weight:normal;text-align:center;transform:scaleY(1.03);-webkit-text-stroke:0.7px #161616;">12,200</div>
<div class="t" style="left:898.0px;top:3067.5px;width:400px;height:47px;line-height:47px;font-size:39px;color:#161616;font-weight:normal;text-align:center;transform:scaleY(1.03);-webkit-text-stroke:0.7px #161616;">41,700</div>
<div class="t" style="left:1099.0px;top:3067.5px;width:400px;height:47px;line-height:47px;font-size:39px;color:#161616;font-weight:normal;text-align:center;transform:scaleY(1.03);-webkit-text-stroke:0.7px #161616;">3,960</div>
<div class="t" style="left:1291.5px;top:3067.5px;width:400px;height:47px;line-height:47px;font-size:39px;color:#161616;font-weight:normal;text-align:center;transform:scaleY(1.03);-webkit-text-stroke:0.7px #161616;">7.0</div>
<div class="t" style="left:1492.0px;top:3067.5px;width:400px;height:47px;line-height:47px;font-size:39px;color:#161616;font-weight:normal;text-align:center;transform:scaleY(1.03);-webkit-text-stroke:0.7px #161616;">3.08</div>
<div class="t" style="left:1701.0px;top:3067.5px;width:400px;height:47px;line-height:47px;font-size:39px;color:#161616;font-weight:normal;text-align:center;transform:scaleY(1.03);-webkit-text-stroke:0.7px #161616;">10.5</div>
<div class="t" style="left:1932.5px;top:3067.5px;width:400px;height:47px;line-height:47px;font-size:39px;color:#161616;font-weight:normal;text-align:center;transform:scaleY(1.03);-webkit-text-stroke:0.7px #161616;">57.2</div>
<div class="t" style="left:2171.5px;top:3067.5px;width:400px;height:47px;line-height:47px;font-size:39px;color:#161616;font-weight:normal;text-align:center;transform:scaleY(1.03);-webkit-text-stroke:0.7px #161616;">1.24</div>
<div class="t" style="left:2385.5px;top:3067.5px;width:400px;height:47px;line-height:47px;font-size:39px;color:#161616;font-weight:normal;text-align:center;transform:scaleY(1.03);-webkit-text-stroke:0.7px #161616;">31.2</div>
<div class="t" style="left:2593.5px;top:3067.5px;width:400px;height:47px;line-height:47px;font-size:39px;color:#161616;font-weight:normal;text-align:center;transform:scaleY(1.03);-webkit-text-stroke:0.7px #161616;">44.0</div>
<div class="t" style="left:2809.0px;top:3067.5px;width:400px;height:47px;line-height:47px;font-size:39px;color:#161616;font-weight:normal;text-align:center;transform:scaleY(1.03);-webkit-text-stroke:0.7px #161616;">73.0</div>
<div class="t" style="left:238.2px;top:3169.0px;height:47px;line-height:47px;font-size:39px;color:#161616;font-weight:normal;transform:scaleY(1.03);-webkit-text-stroke:0.7px #161616;">ZRD48KCE</div>
<div class="t" style="left:470.1px;top:3122.0px;height:47px;line-height:47px;font-size:39px;color:#161616;font-weight:normal;transform:scaleY(1.03);-webkit-text-stroke:0.7px #161616;">TFD</div>
<div class="t" style="left:470.1px;top:3169.0px;height:47px;line-height:47px;font-size:39px;color:#161616;font-weight:normal;transform:scaleY(1.03);-webkit-text-stroke:0.7px #161616;">TF5</div>
<div class="t" style="left:470.1px;top:3216.0px;height:47px;line-height:47px;font-size:39px;color:#161616;font-weight:normal;transform:scaleY(1.03);-webkit-text-stroke:0.7px #161616;">TF7</div>
<div class="t" style="left:490.5px;top:3169.0px;width:400px;height:47px;line-height:47px;font-size:39px;color:#161616;font-weight:normal;text-align:center;transform:scaleY(1.03);-webkit-text-stroke:0.7px #161616;">4.0</div>
<div class="t" style="left:695.0px;top:3122.0px;width:400px;height:47px;line-height:47px;font-size:39px;color:#161616;font-weight:normal;text-align:center;transform:scaleY(1.03);-webkit-text-stroke:0.7px #161616;">14,050</div>
<div class="t" style="left:695.0px;top:3169.0px;width:400px;height:47px;line-height:47px;font-size:39px;color:#161616;font-weight:normal;text-align:center;transform:scaleY(1.03);-webkit-text-stroke:0.7px #161616;">9,400</div>
<div class="t" style="left:695.0px;top:3216.0px;width:400px;height:47px;line-height:47px;font-size:39px;color:#161616;font-weight:normal;text-align:center;transform:scaleY(1.03);-webkit-text-stroke:0.7px #161616;">14,550</div>
<div class="t" style="left:898.0px;top:3122.0px;width:400px;height:47px;line-height:47px;font-size:39px;color:#161616;font-weight:normal;text-align:center;transform:scaleY(1.03);-webkit-text-stroke:0.7px #161616;">48,000</div>
<div class="t" style="left:898.0px;top:3169.0px;width:400px;height:47px;line-height:47px;font-size:39px;color:#161616;font-weight:normal;text-align:center;transform:scaleY(1.03);-webkit-text-stroke:0.7px #161616;">32,100</div>
<div class="t" style="left:898.0px;top:3216.0px;width:400px;height:47px;line-height:47px;font-size:39px;color:#161616;font-weight:normal;text-align:center;transform:scaleY(1.03);-webkit-text-stroke:0.7px #161616;">49,700</div>
<div class="t" style="left:1099.0px;top:3122.0px;width:400px;height:47px;line-height:47px;font-size:39px;color:#161616;font-weight:normal;text-align:center;transform:scaleY(1.03);-webkit-text-stroke:0.7px #161616;">4,400</div>
<div class="t" style="left:1099.0px;top:3169.0px;width:400px;height:47px;line-height:47px;font-size:39px;color:#161616;font-weight:normal;text-align:center;transform:scaleY(1.03);-webkit-text-stroke:0.7px #161616;">3,160</div>
<div class="t" style="left:1099.0px;top:3216.0px;width:400px;height:47px;line-height:47px;font-size:39px;color:#161616;font-weight:normal;text-align:center;transform:scaleY(1.03);-webkit-text-stroke:0.7px #161616;">4,640</div>
<div class="t" style="left:1291.5px;top:3122.0px;width:400px;height:47px;line-height:47px;font-size:39px;color:#161616;font-weight:normal;text-align:center;transform:scaleY(1.03);-webkit-text-stroke:0.7px #161616;">6.4</div>
<div class="t" style="left:1291.5px;top:3169.0px;width:400px;height:47px;line-height:47px;font-size:39px;color:#161616;font-weight:normal;text-align:center;transform:scaleY(1.03);-webkit-text-stroke:0.7px #161616;">9.7</div>
<div class="t" style="left:1291.5px;top:3216.0px;width:400px;height:47px;line-height:47px;font-size:39px;color:#161616;font-weight:normal;text-align:center;transform:scaleY(1.03);-webkit-text-stroke:0.7px #161616;">8.1</div>
<div class="t" style="left:1492.0px;top:3122.0px;width:400px;height:47px;line-height:47px;font-size:39px;color:#161616;font-weight:normal;text-align:center;transform:scaleY(1.03);-webkit-text-stroke:0.7px #161616;">3.19</div>
<div class="t" style="left:1492.0px;top:3169.0px;width:400px;height:47px;line-height:47px;font-size:39px;color:#161616;font-weight:normal;text-align:center;transform:scaleY(1.03);-webkit-text-stroke:0.7px #161616;">2.99</div>
<div class="t" style="left:1492.0px;top:3216.0px;width:400px;height:47px;line-height:47px;font-size:39px;color:#161616;font-weight:normal;text-align:center;transform:scaleY(1.03);-webkit-text-stroke:0.7px #161616;">3.14</div>
<div class="t" style="left:1701.0px;top:3122.0px;width:400px;height:47px;line-height:47px;font-size:39px;color:#161616;font-weight:normal;text-align:center;transform:scaleY(1.03);-webkit-text-stroke:0.7px #161616;">10.9</div>
<div class="t" style="left:1701.0px;top:3169.0px;width:400px;height:47px;line-height:47px;font-size:39px;color:#161616;font-weight:normal;text-align:center;transform:scaleY(1.03);-webkit-text-stroke:0.7px #161616;">10.2</div>
<div class="t" style="left:1701.0px;top:3216.0px;width:400px;height:47px;line-height:47px;font-size:39px;color:#161616;font-weight:normal;text-align:center;transform:scaleY(1.03);-webkit-text-stroke:0.7px #161616;">10.7</div>
<div class="t" style="left:1932.5px;top:3169.0px;width:400px;height:47px;line-height:47px;font-size:39px;color:#161616;font-weight:normal;text-align:center;transform:scaleY(1.03);-webkit-text-stroke:0.7px #161616;">65.6</div>
<div class="t" style="left:2171.5px;top:3169.0px;width:400px;height:47px;line-height:47px;font-size:39px;color:#161616;font-weight:normal;text-align:center;transform:scaleY(1.03);-webkit-text-stroke:0.7px #161616;">1.36</div>
<div class="t" style="left:2385.5px;top:3169.0px;width:400px;height:47px;line-height:47px;font-size:39px;color:#161616;font-weight:normal;text-align:center;transform:scaleY(1.03);-webkit-text-stroke:0.7px #161616;">32.7</div>
<div class="t" style="left:2593.5px;top:3122.0px;width:400px;height:47px;line-height:47px;font-size:39px;color:#161616;font-weight:normal;text-align:center;transform:scaleY(1.03);-webkit-text-stroke:0.7px #161616;">46.0</div>
<div class="t" style="left:2593.5px;top:3169.0px;width:400px;height:47px;line-height:47px;font-size:39px;color:#161616;font-weight:normal;text-align:center;transform:scaleY(1.03);-webkit-text-stroke:0.7px #161616;">110.0</div>
<div class="t" style="left:2593.5px;top:3216.0px;width:400px;height:47px;line-height:47px;font-size:39px;color:#161616;font-weight:normal;text-align:center;transform:scaleY(1.03);-webkit-text-stroke:0.7px #161616;">54.0</div>
<div class="t" style="left:2809.0px;top:3169.0px;width:400px;height:47px;line-height:47px;font-size:39px;color:#161616;font-weight:normal;text-align:center;transform:scaleY(1.03);-webkit-text-stroke:0.7px #161616;">76.0</div>
<div class="t" style="left:238.2px;top:3268.5px;height:47px;line-height:47px;font-size:39px;color:#161616;font-weight:normal;transform:scaleY(1.03);-webkit-text-stroke:0.7px #161616;">ZRD49KCE</div>
<div class="t" style="left:470.1px;top:3268.5px;height:47px;line-height:47px;font-size:39px;color:#161616;font-weight:normal;transform:scaleY(1.03);-webkit-text-stroke:0.7px #161616;">TFD</div>
<div class="t" style="left:490.5px;top:3268.5px;width:400px;height:47px;line-height:47px;font-size:39px;color:#161616;font-weight:normal;text-align:center;transform:scaleY(1.03);-webkit-text-stroke:0.7px #161616;">4.0</div>
<div class="t" style="left:695.0px;top:3268.5px;width:400px;height:47px;line-height:47px;font-size:39px;color:#161616;font-weight:normal;text-align:center;transform:scaleY(1.03);-webkit-text-stroke:0.7px #161616;">13,550</div>
<div class="t" style="left:898.0px;top:3268.5px;width:400px;height:47px;line-height:47px;font-size:39px;color:#161616;font-weight:normal;text-align:center;transform:scaleY(1.03);-webkit-text-stroke:0.7px #161616;">46,200</div>
<div class="t" style="left:1099.0px;top:3268.5px;width:400px;height:47px;line-height:47px;font-size:39px;color:#161616;font-weight:normal;text-align:center;transform:scaleY(1.03);-webkit-text-stroke:0.7px #161616;">4,540</div>
<div class="t" style="left:1291.5px;top:3268.5px;width:400px;height:47px;line-height:47px;font-size:39px;color:#161616;font-weight:normal;text-align:center;transform:scaleY(1.03);-webkit-text-stroke:0.7px #161616;">6.7</div>
<div class="t" style="left:1492.0px;top:3268.5px;width:400px;height:47px;line-height:47px;font-size:39px;color:#161616;font-weight:normal;text-align:center;transform:scaleY(1.03);-webkit-text-stroke:0.7px #161616;">2.99</div>
<div class="t" style="left:1701.0px;top:3268.5px;width:400px;height:47px;line-height:47px;font-size:39px;color:#161616;font-weight:normal;text-align:center;transform:scaleY(1.03);-webkit-text-stroke:0.7px #161616;">10.2</div>
<div class="t" style="left:1932.5px;top:3268.5px;width:400px;height:47px;line-height:47px;font-size:39px;color:#161616;font-weight:normal;text-align:center;transform:scaleY(1.03);-webkit-text-stroke:0.7px #161616;">67.1</div>
<div class="t" style="left:2171.5px;top:3268.5px;width:400px;height:47px;line-height:47px;font-size:39px;color:#161616;font-weight:normal;text-align:center;transform:scaleY(1.03);-webkit-text-stroke:0.7px #161616;">1.89</div>
<div class="t" style="left:2385.5px;top:3268.5px;width:400px;height:47px;line-height:47px;font-size:39px;color:#161616;font-weight:normal;text-align:center;transform:scaleY(1.03);-webkit-text-stroke:0.7px #161616;">42.6</div>
<div class="t" style="left:2593.5px;top:3268.5px;width:400px;height:47px;line-height:47px;font-size:39px;color:#161616;font-weight:normal;text-align:center;transform:scaleY(1.03);-webkit-text-stroke:0.7px #161616;">47.5</div>
<div class="t" style="left:2809.0px;top:3268.5px;width:400px;height:47px;line-height:47px;font-size:39px;color:#161616;font-weight:normal;text-align:center;transform:scaleY(1.03);-webkit-text-stroke:0.7px #161616;">72.0</div>
<div class="t" style="left:238.2px;top:3371.0px;height:47px;line-height:47px;font-size:39px;color:#161616;font-weight:normal;transform:scaleY(1.03);-webkit-text-stroke:0.7px #161616;">ZRD61KCE</div>
<div class="t" style="left:470.1px;top:3324.0px;height:47px;line-height:47px;font-size:39px;color:#161616;font-weight:normal;transform:scaleY(1.03);-webkit-text-stroke:0.7px #161616;">TFD</div>
<div class="t" style="left:470.1px;top:3371.0px;height:47px;line-height:47px;font-size:39px;color:#161616;font-weight:normal;transform:scaleY(1.03);-webkit-text-stroke:0.7px #161616;">TF5</div>
<div class="t" style="left:470.1px;top:3418.0px;height:47px;line-height:47px;font-size:39px;color:#161616;font-weight:normal;transform:scaleY(1.03);-webkit-text-stroke:0.7px #161616;">TF7</div>
<div class="t" style="left:490.5px;top:3371.0px;width:400px;height:47px;line-height:47px;font-size:39px;color:#161616;font-weight:normal;text-align:center;transform:scaleY(1.03);-webkit-text-stroke:0.7px #161616;">5.0</div>
<div class="t" style="left:695.0px;top:3371.0px;width:400px;height:47px;line-height:47px;font-size:39px;color:#161616;font-weight:normal;text-align:center;transform:scaleY(1.03);-webkit-text-stroke:0.7px #161616;">17,400</div>
<div class="t" style="left:898.0px;top:3371.0px;width:400px;height:47px;line-height:47px;font-size:39px;color:#161616;font-weight:normal;text-align:center;transform:scaleY(1.03);-webkit-text-stroke:0.7px #161616;">59,500</div>
<div class="t" style="left:1099.0px;top:3371.0px;width:400px;height:47px;line-height:47px;font-size:39px;color:#161616;font-weight:normal;text-align:center;transform:scaleY(1.03);-webkit-text-stroke:0.7px #161616;">5,740</div>
<div class="t" style="left:1291.5px;top:3324.0px;width:400px;height:47px;line-height:47px;font-size:39px;color:#161616;font-weight:normal;text-align:center;transform:scaleY(1.03);-webkit-text-stroke:0.7px #161616;">8.5</div>
<div class="t" style="left:1291.5px;top:3371.0px;width:400px;height:47px;line-height:47px;font-size:39px;color:#161616;font-weight:normal;text-align:center;transform:scaleY(1.03);-webkit-text-stroke:0.7px #161616;">16.9</div>
<div class="t" style="left:1291.5px;top:3418.0px;width:400px;height:47px;line-height:47px;font-size:39px;color:#161616;font-weight:normal;text-align:center;transform:scaleY(1.03);-webkit-text-stroke:0.7px #161616;">10.3</div>
<div class="t" style="left:1492.0px;top:3371.0px;width:400px;height:47px;line-height:47px;font-size:39px;color:#161616;font-weight:normal;text-align:center;transform:scaleY(1.03);-webkit-text-stroke:0.7px #161616;">3.05</div>
<div class="t" style="left:1701.0px;top:3371.0px;width:400px;height:47px;line-height:47px;font-size:39px;color:#161616;font-weight:normal;text-align:center;transform:scaleY(1.03);-webkit-text-stroke:0.7px #161616;">10.4</div>
<div class="t" style="left:1932.5px;top:3371.0px;width:400px;height:47px;line-height:47px;font-size:39px;color:#161616;font-weight:normal;text-align:center;transform:scaleY(1.03);-webkit-text-stroke:0.7px #161616;">82.6</div>
<div class="t" style="left:2171.5px;top:3371.0px;width:400px;height:47px;line-height:47px;font-size:39px;color:#161616;font-weight:normal;text-align:center;transform:scaleY(1.03);-webkit-text-stroke:0.7px #161616;">1.89</div>
<div class="t" style="left:2385.5px;top:3371.0px;width:400px;height:47px;line-height:47px;font-size:39px;color:#161616;font-weight:normal;text-align:center;transform:scaleY(1.03);-webkit-text-stroke:0.7px #161616;">38.1</div>
<div class="t" style="left:2593.5px;top:3324.0px;width:400px;height:47px;line-height:47px;font-size:39px;color:#161616;font-weight:normal;text-align:center;transform:scaleY(1.03);-webkit-text-stroke:0.7px #161616;">62.0</div>
<div class="t" style="left:2593.5px;top:3371.0px;width:400px;height:47px;line-height:47px;font-size:39px;color:#161616;font-weight:normal;text-align:center;transform:scaleY(1.03);-webkit-text-stroke:0.7px #161616;">137.0</div>
<div class="t" style="left:2593.5px;top:3418.0px;width:400px;height:47px;line-height:47px;font-size:39px;color:#161616;font-weight:normal;text-align:center;transform:scaleY(1.03);-webkit-text-stroke:0.7px #161616;">64.0</div>
<div class="t" style="left:2809.0px;top:3371.0px;width:400px;height:47px;line-height:47px;font-size:39px;color:#161616;font-weight:normal;text-align:center;transform:scaleY(1.03);-webkit-text-stroke:0.7px #161616;">74.0</div>
<div class="t" style="left:238.2px;top:3468.5px;height:47px;line-height:47px;font-size:39px;color:#161616;font-weight:normal;transform:scaleY(1.03);-webkit-text-stroke:0.7px #161616;">ZRD68KCE</div>
<div class="t" style="left:470.1px;top:3468.5px;height:47px;line-height:47px;font-size:39px;color:#161616;font-weight:normal;transform:scaleY(1.03);-webkit-text-stroke:0.7px #161616;">TFD</div>
<div class="t" style="left:490.5px;top:3468.5px;width:400px;height:47px;line-height:47px;font-size:39px;color:#161616;font-weight:normal;text-align:center;transform:scaleY(1.03);-webkit-text-stroke:0.7px #161616;">6.0</div>
<div class="t" style="left:695.0px;top:3468.5px;width:400px;height:47px;line-height:47px;font-size:39px;color:#161616;font-weight:normal;text-align:center;transform:scaleY(1.03);-webkit-text-stroke:0.7px #161616;">19,500</div>
<div class="t" style="left:898.0px;top:3468.5px;width:400px;height:47px;line-height:47px;font-size:39px;color:#161616;font-weight:normal;text-align:center;transform:scaleY(1.03);-webkit-text-stroke:0.7px #161616;">66,500</div>
<div class="t" style="left:1099.0px;top:3468.5px;width:400px;height:47px;line-height:47px;font-size:39px;color:#161616;font-weight:normal;text-align:center;transform:scaleY(1.03);-webkit-text-stroke:0.7px #161616;">6,250</div>
<div class="t" style="left:1291.5px;top:3468.5px;width:400px;height:47px;line-height:47px;font-size:39px;color:#161616;font-weight:normal;text-align:center;transform:scaleY(1.03);-webkit-text-stroke:0.7px #161616;">9.1</div>
<div class="t" style="left:1492.0px;top:3468.5px;width:400px;height:47px;line-height:47px;font-size:39px;color:#161616;font-weight:normal;text-align:center;transform:scaleY(1.03);-webkit-text-stroke:0.7px #161616;">3.11</div>
<div class="t" style="left:1701.0px;top:3468.5px;width:400px;height:47px;line-height:47px;font-size:39px;color:#161616;font-weight:normal;text-align:center;transform:scaleY(1.03);-webkit-text-stroke:0.7px #161616;">10.6</div>
<div class="t" style="left:1932.5px;top:3468.5px;width:400px;height:47px;line-height:47px;font-size:39px;color:#161616;font-weight:normal;text-align:center;transform:scaleY(1.03);-webkit-text-stroke:0.7px #161616;">93.0</div>
<div class="t" style="left:2171.5px;top:3468.5px;width:400px;height:47px;line-height:47px;font-size:39px;color:#161616;font-weight:normal;text-align:center;transform:scaleY(1.03);-webkit-text-stroke:0.7px #161616;">1.89</div>
<div class="t" style="left:2385.5px;top:3468.5px;width:400px;height:47px;line-height:47px;font-size:39px;color:#161616;font-weight:normal;text-align:center;transform:scaleY(1.03);-webkit-text-stroke:0.7px #161616;">40.2</div>
<div class="t" style="left:2593.5px;top:3468.5px;width:400px;height:47px;line-height:47px;font-size:39px;color:#161616;font-weight:normal;text-align:center;transform:scaleY(1.03);-webkit-text-stroke:0.7px #161616;">75.0</div>
<div class="t" style="left:2809.0px;top:3468.5px;width:400px;height:47px;line-height:47px;font-size:39px;color:#161616;font-weight:normal;text-align:center;transform:scaleY(1.03);-webkit-text-stroke:0.7px #161616;">78.0</div>
<div class="t" style="left:238.2px;top:3571.0px;height:47px;line-height:47px;font-size:39px;color:#161616;font-weight:normal;transform:scaleY(1.03);-webkit-text-stroke:0.7px #161616;">ZRD72KCE</div>
<div class="t" style="left:470.1px;top:3524.0px;height:47px;line-height:47px;font-size:39px;color:#161616;font-weight:normal;transform:scaleY(1.03);-webkit-text-stroke:0.7px #161616;">TFD</div>
<div class="t" style="left:470.1px;top:3571.0px;height:47px;line-height:47px;font-size:39px;color:#161616;font-weight:normal;transform:scaleY(1.03);-webkit-text-stroke:0.7px #161616;">TF5</div>
<div class="t" style="left:470.1px;top:3618.0px;height:47px;line-height:47px;font-size:39px;color:#161616;font-weight:normal;transform:scaleY(1.03);-webkit-text-stroke:0.7px #161616;">TF7</div>
<div class="t" style="left:490.5px;top:3571.0px;width:400px;height:47px;line-height:47px;font-size:39px;color:#161616;font-weight:normal;text-align:center;transform:scaleY(1.03);-webkit-text-stroke:0.7px #161616;">6.0</div>
<div class="t" style="left:695.0px;top:3571.0px;width:400px;height:47px;line-height:47px;font-size:39px;color:#161616;font-weight:normal;text-align:center;transform:scaleY(1.03);-webkit-text-stroke:0.7px #161616;">20,700</div>
<div class="t" style="left:898.0px;top:3571.0px;width:400px;height:47px;line-height:47px;font-size:39px;color:#161616;font-weight:normal;text-align:center;transform:scaleY(1.03);-webkit-text-stroke:0.7px #161616;">70,500</div>
<div class="t" style="left:1099.0px;top:3571.0px;width:400px;height:47px;line-height:47px;font-size:39px;color:#161616;font-weight:normal;text-align:center;transform:scaleY(1.03);-webkit-text-stroke:0.7px #161616;">6,550</div>
<div class="t" style="left:1291.5px;top:3524.0px;width:400px;height:47px;line-height:47px;font-size:39px;color:#161616;font-weight:normal;text-align:center;transform:scaleY(1.03);-webkit-text-stroke:0.7px #161616;">9.5</div>
<div class="t" style="left:1291.5px;top:3571.0px;width:400px;height:47px;line-height:47px;font-size:39px;color:#161616;font-weight:normal;text-align:center;transform:scaleY(1.03);-webkit-text-stroke:0.7px #161616;">19.0</div>
<div class="t" style="left:1291.5px;top:3618.0px;width:400px;height:47px;line-height:47px;font-size:39px;color:#161616;font-weight:normal;text-align:center;transform:scaleY(1.03);-webkit-text-stroke:0.7px #161616;">11.5</div>
<div class="t" style="left:1492.0px;top:3571.0px;width:400px;height:47px;line-height:47px;font-size:39px;color:#161616;font-weight:normal;text-align:center;transform:scaleY(1.03);-webkit-text-stroke:0.7px #161616;">3.17</div>
<div class="t" style="left:1701.0px;top:3571.0px;width:400px;height:47px;line-height:47px;font-size:39px;color:#161616;font-weight:normal;text-align:center;transform:scaleY(1.03);-webkit-text-stroke:0.7px #161616;">10.8</div>
<div class="t" style="left:1932.5px;top:3571.0px;width:400px;height:47px;line-height:47px;font-size:39px;color:#161616;font-weight:normal;text-align:center;transform:scaleY(1.03);-webkit-text-stroke:0.7px #161616;">98.1</div>
<div class="t" style="left:2171.5px;top:3571.0px;width:400px;height:47px;line-height:47px;font-size:39px;color:#161616;font-weight:normal;text-align:center;transform:scaleY(1.03);-webkit-text-stroke:0.7px #161616;">1.89</div>
<div class="t" style="left:2385.5px;top:3524.0px;width:400px;height:47px;line-height:47px;font-size:39px;color:#161616;font-weight:normal;text-align:center;transform:scaleY(1.03);-webkit-text-stroke:0.7px #161616;">39.9</div>
<div class="t" style="left:2385.5px;top:3571.0px;width:400px;height:47px;line-height:47px;font-size:39px;color:#161616;font-weight:normal;text-align:center;transform:scaleY(1.03);-webkit-text-stroke:0.7px #161616;">39.9</div>
<div class="t" style="left:2385.5px;top:3618.0px;width:400px;height:47px;line-height:47px;font-size:39px;color:#161616;font-weight:normal;text-align:center;transform:scaleY(1.03);-webkit-text-stroke:0.7px #161616;">39.5</div>
<div class="t" style="left:2593.5px;top:3524.0px;width:400px;height:47px;line-height:47px;font-size:39px;color:#161616;font-weight:normal;text-align:center;transform:scaleY(1.03);-webkit-text-stroke:0.7px #161616;">70.0</div>
<div class="t" style="left:2593.5px;top:3571.0px;width:400px;height:47px;line-height:47px;font-size:39px;color:#161616;font-weight:normal;text-align:center;transform:scaleY(1.03);-webkit-text-stroke:0.7px #161616;">156.0</div>
<div class="t" style="left:2593.5px;top:3618.0px;width:400px;height:47px;line-height:47px;font-size:39px;color:#161616;font-weight:normal;text-align:center;transform:scaleY(1.03);-webkit-text-stroke:0.7px #161616;">70.0</div>
<div class="t" style="left:2809.0px;top:3571.0px;width:400px;height:47px;line-height:47px;font-size:39px;color:#161616;font-weight:normal;text-align:center;transform:scaleY(1.03);-webkit-text-stroke:0.7px #161616;">74.0</div>
<div class="t" style="left:238.2px;top:3692.0px;height:47px;line-height:47px;font-size:39px;color:#161616;font-weight:normal;transform:scaleY(1.03);-webkit-text-stroke:0.7px #161616;">ZRD81KCE</div>
<div class="t" style="left:470.1px;top:3668.0px;height:47px;line-height:47px;font-size:39px;color:#161616;font-weight:normal;transform:scaleY(1.03);-webkit-text-stroke:0.7px #161616;">TFD</div>
<div class="t" style="left:470.1px;top:3715.0px;height:47px;line-height:47px;font-size:39px;color:#161616;font-weight:normal;transform:scaleY(1.03);-webkit-text-stroke:0.7px #161616;">TF7</div>
<div class="t" style="left:490.5px;top:3692.0px;width:400px;height:47px;line-height:47px;font-size:39px;color:#161616;font-weight:normal;text-align:center;transform:scaleY(1.03);-webkit-text-stroke:0.7px #161616;">7.0</div>
<div class="t" style="left:695.0px;top:3668.0px;width:400px;height:47px;line-height:47px;font-size:39px;color:#161616;font-weight:normal;text-align:center;transform:scaleY(1.03);-webkit-text-stroke:0.7px #161616;">22,900</div>
<div class="t" style="left:695.0px;top:3715.0px;width:400px;height:47px;line-height:47px;font-size:39px;color:#161616;font-weight:normal;text-align:center;transform:scaleY(1.03);-webkit-text-stroke:0.7px #161616;">24,200</div>
<div class="t" style="left:898.0px;top:3668.0px;width:400px;height:47px;line-height:47px;font-size:39px;color:#161616;font-weight:normal;text-align:center;transform:scaleY(1.03);-webkit-text-stroke:0.7px #161616;">78,000</div>
<div class="t" style="left:898.0px;top:3715.0px;width:400px;height:47px;line-height:47px;font-size:39px;color:#161616;font-weight:normal;text-align:center;transform:scaleY(1.03);-webkit-text-stroke:0.7px #161616;">82,500</div>
<div class="t" style="left:1099.0px;top:3668.0px;width:400px;height:47px;line-height:47px;font-size:39px;color:#161616;font-weight:normal;text-align:center;transform:scaleY(1.03);-webkit-text-stroke:0.7px #161616;">7,700</div>
<div class="t" style="left:1099.0px;top:3715.0px;width:400px;height:47px;line-height:47px;font-size:39px;color:#161616;font-weight:normal;text-align:center;transform:scaleY(1.03);-webkit-text-stroke:0.7px #161616;">7,950</div>
<div class="t" style="left:1291.5px;top:3668.0px;width:400px;height:47px;line-height:47px;font-size:39px;color:#161616;font-weight:normal;text-align:center;transform:scaleY(1.03);-webkit-text-stroke:0.7px #161616;">12.2</div>
<div class="t" style="left:1291.5px;top:3715.0px;width:400px;height:47px;line-height:47px;font-size:39px;color:#161616;font-weight:normal;text-align:center;transform:scaleY(1.03);-webkit-text-stroke:0.7px #161616;">10.9</div>
<div class="t" style="left:1492.0px;top:3668.0px;width:400px;height:47px;line-height:47px;font-size:39px;color:#161616;font-weight:normal;text-align:center;transform:scaleY(1.03);-webkit-text-stroke:0.7px #161616;">2.99</div>
<div class="t" style="left:1492.0px;top:3715.0px;width:400px;height:47px;line-height:47px;font-size:39px;color:#161616;font-weight:normal;text-align:center;transform:scaleY(1.03);-webkit-text-stroke:0.7px #161616;">3.05</div>
<div class="t" style="left:1701.0px;top:3668.0px;width:400px;height:47px;line-height:47px;font-size:39px;color:#161616;font-weight:normal;text-align:center;transform:scaleY(1.03);-webkit-text-stroke:0.7px #161616;">10.2</div>
<div class="t" style="left:1701.0px;top:3715.0px;width:400px;height:47px;line-height:47px;font-size:39px;color:#161616;font-weight:normal;text-align:center;transform:scaleY(1.03);-webkit-text-stroke:0.7px #161616;">10.4</div>
<div class="t" style="left:1932.5px;top:3692.0px;width:400px;height:47px;line-height:47px;font-size:39px;color:#161616;font-weight:normal;text-align:center;transform:scaleY(1.03);-webkit-text-stroke:0.7px #161616;">107.8</div>
<div class="t" style="left:2171.5px;top:3692.0px;width:400px;height:47px;line-height:47px;font-size:39px;color:#161616;font-weight:normal;text-align:center;transform:scaleY(1.03);-webkit-text-stroke:0.7px #161616;">1.89</div>
<div class="t" style="left:2385.5px;top:3692.0px;width:400px;height:47px;line-height:47px;font-size:39px;color:#161616;font-weight:normal;text-align:center;transform:scaleY(1.03);-webkit-text-stroke:0.7px #161616;">40.8</div>
<div class="t" style="left:2593.5px;top:3668.0px;width:400px;height:47px;line-height:47px;font-size:39px;color:#161616;font-weight:normal;text-align:center;transform:scaleY(1.03);-webkit-text-stroke:0.7px #161616;">100.0</div>
<div class="t" style="left:2593.5px;top:3715.0px;width:400px;height:47px;line-height:47px;font-size:39px;color:#161616;font-weight:normal;text-align:center;transform:scaleY(1.03);-webkit-text-stroke:0.7px #161616;">78.0</div>
<div class="t" style="left:2809.0px;top:3692.0px;width:400px;height:47px;line-height:47px;font-size:39px;color:#161616;font-weight:normal;text-align:center;transform:scaleY(1.03);-webkit-text-stroke:0.7px #161616;">78.0</div>
<div style="position:absolute;left:0;top:4524px;width:63px;height:64px;background:#1a4a8e"></div>
<div class="t" style="left:67.9px;top:4522.3px;height:67px;line-height:67px;font-size:55.5px;color:#1e3658;font-weight:normal;transform:scaleX(1.0096);transform-origin:0 50%;">30</div>
</body></html>
